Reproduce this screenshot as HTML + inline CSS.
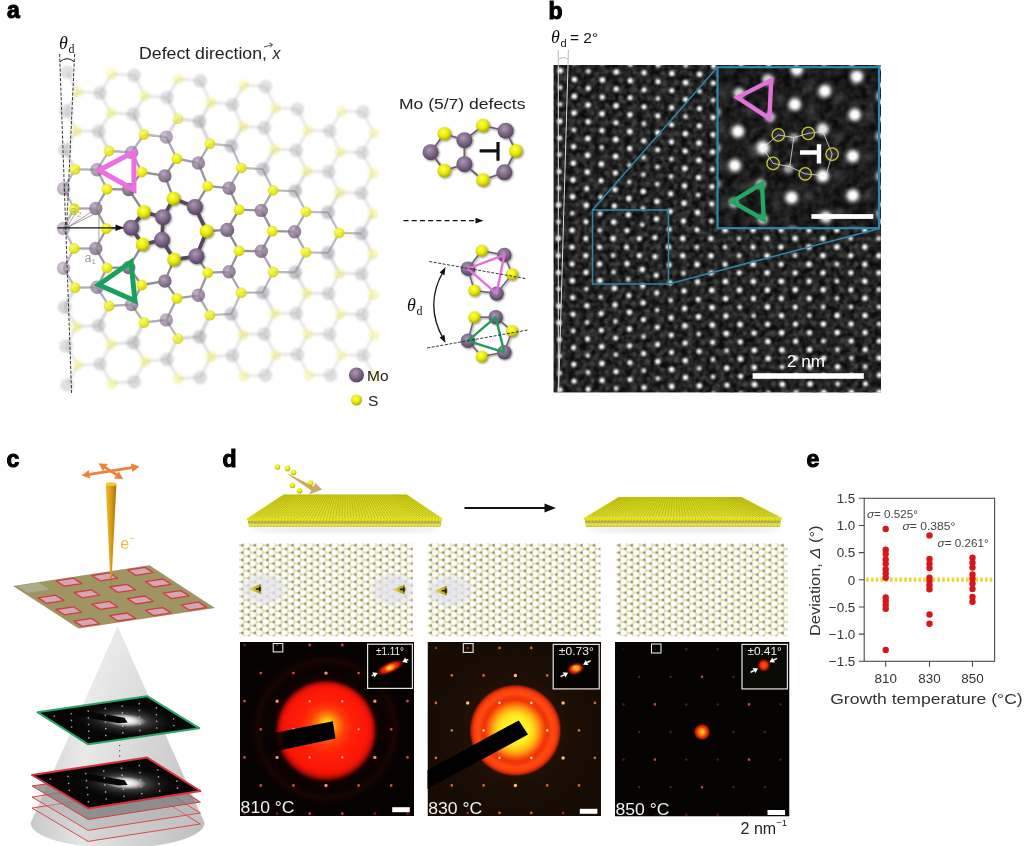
<!DOCTYPE html>
<html lang="en"><head><meta charset="utf-8"><title>Figure</title>
<style>html,body{margin:0;padding:0;background:#fff;}svg{display:block;}</style></head>
<body>
<svg width="1024" height="846" viewBox="0 0 1024 846">
<defs>
<radialGradient id="gMoF" cx="0.4" cy="0.35" r="0.7"><stop offset="0" stop-color="#a4a3a8"/><stop offset="0.55" stop-color="#8c8a90"/><stop offset="1" stop-color="#7e7c82"/></radialGradient>
<radialGradient id="gSF" cx="0.4" cy="0.35" r="0.7"><stop offset="0" stop-color="#ffff80"/><stop offset="0.55" stop-color="#eeee3c"/><stop offset="1" stop-color="#d2d21c"/></radialGradient>
<radialGradient id="gMo" cx="0.4" cy="0.35" r="0.7"><stop offset="0" stop-color="#b4a4b8"/><stop offset="0.55" stop-color="#8a7690"/><stop offset="1" stop-color="#6a5870"/></radialGradient>
<radialGradient id="gS" cx="0.4" cy="0.35" r="0.7"><stop offset="0" stop-color="#ffff66"/><stop offset="0.55" stop-color="#ecec1c"/><stop offset="1" stop-color="#c4c400"/></radialGradient>
<radialGradient id="gMoc" cx="0.42" cy="0.35" r="0.72"><stop offset="0" stop-color="#ad98b3"/><stop offset="0.5" stop-color="#7d6786"/><stop offset="1" stop-color="#4b3b52"/></radialGradient>
<radialGradient id="gSc" cx="0.42" cy="0.35" r="0.72"><stop offset="0" stop-color="#ffff50"/><stop offset="0.5" stop-color="#e9e90a"/><stop offset="1" stop-color="#9c9c00"/></radialGradient>
<filter id="blur1" x="-5%" y="-5%" width="110%" height="110%"><feGaussianBlur stdDeviation="0.9"/></filter>
<filter id="blur03" x="-5%" y="-5%" width="110%" height="110%"><feGaussianBlur stdDeviation="0.35"/></filter>
<filter id="coresh" x="-10%" y="-10%" width="120%" height="120%"><feGaussianBlur in="SourceAlpha" stdDeviation="1.2" result="b"/><feOffset in="b" dx="0.8" dy="1" result="o"/><feComponentTransfer in="o" result="s"><feFuncA type="linear" slope="0.45"/></feComponentTransfer><feMerge><feMergeNode in="s"/><feMergeNode in="SourceGraphic"/></feMerge></filter>

<filter id="blM" x="0" y="0" width="100%" height="100%" filterUnits="userSpaceOnUse" primitiveUnits="userSpaceOnUse"><feGaussianBlur stdDeviation="1.15"/></filter>
<filter id="blS" x="0" y="0" width="100%" height="100%" filterUnits="userSpaceOnUse" primitiveUnits="userSpaceOnUse"><feGaussianBlur stdDeviation="1.3"/></filter>
<filter id="stemnoise" x="0" y="0" width="100%" height="100%" color-interpolation-filters="sRGB"><feTurbulence type="fractalNoise" baseFrequency="0.16" numOctaves="2" seed="4"/><feColorMatrix type="matrix" values="0.7 0 0 0 -0.2  0.7 0 0 0 -0.2  0.7 0 0 0 -0.2  0 0 0 0 1"/></filter>
<filter id="stemnoise2" x="0" y="0" width="100%" height="100%" color-interpolation-filters="sRGB"><feTurbulence type="fractalNoise" baseFrequency="0.12" numOctaves="2" seed="9"/><feColorMatrix type="matrix" values="0.8 0 0 0 -0.22  0.8 0 0 0 -0.22  0.8 0 0 0 -0.22  0 0 0 0 1"/></filter>
<radialGradient id="gSpot"><stop offset="0" stop-color="#fff"/><stop offset="0.3" stop-color="#fff" stop-opacity="0.97"/><stop offset="0.5" stop-color="#eee" stop-opacity="0.7"/><stop offset="0.75" stop-color="#bbb" stop-opacity="0.25"/><stop offset="1" stop-color="#888" stop-opacity="0"/></radialGradient>
<radialGradient id="gHaze"><stop offset="0" stop-color="#666" stop-opacity="0.42"/><stop offset="1" stop-color="#555" stop-opacity="0"/></radialGradient>

<linearGradient id="gCone" x1="0" x2="1" y1="0" y2="0"><stop offset="0" stop-color="#c6c6c6"/><stop offset="0.3" stop-color="#e6e6e6"/><stop offset="0.55" stop-color="#d6d6d6"/><stop offset="1" stop-color="#bdbdbd"/></linearGradient>
<linearGradient id="gConeV" x1="0" x2="0" y1="0" y2="1"><stop offset="0" stop-color="#fff" stop-opacity="0.45"/><stop offset="0.35" stop-color="#fff" stop-opacity="0.2"/><stop offset="1" stop-color="#fff" stop-opacity="0"/></linearGradient>
<linearGradient id="gBeam" x1="0" x2="1" y1="0" y2="0"><stop offset="0" stop-color="#f0b830"/><stop offset="0.45" stop-color="#dda018"/><stop offset="1" stop-color="#a87200"/></linearGradient>
<radialGradient id="gGlowW"><stop offset="0" stop-color="#fff" stop-opacity="0.85"/><stop offset="0.25" stop-color="#ccc" stop-opacity="0.5"/><stop offset="0.6" stop-color="#666" stop-opacity="0.25"/><stop offset="1" stop-color="#222" stop-opacity="0"/></radialGradient>
<radialGradient id="gGlowW2"><stop offset="0" stop-color="#fff" stop-opacity="1"/><stop offset="0.5" stop-color="#fff" stop-opacity="0.7"/><stop offset="1" stop-color="#fff" stop-opacity="0"/></radialGradient>
<filter id="blur03c" x="-5%" y="-5%" width="110%" height="110%"><feGaussianBlur stdDeviation="0.4"/></filter>

<linearGradient id="gStop1" gradientUnits="userSpaceOnUse" x1="260" x2="285" y1="0" y2="0"><stop offset="0" stop-color="#020101" stop-opacity="0"/><stop offset="1" stop-color="#020101"/></linearGradient>
<linearGradient id="gSlab" x1="0" x2="0" y1="0" y2="1"><stop offset="0" stop-color="#d4d41c"/><stop offset="1" stop-color="#e4e430"/></linearGradient>
<filter id="blur2d" x="-10%" y="-100%" width="120%" height="300%"><feGaussianBlur stdDeviation="2"/></filter>
<filter id="blur05d" x="-20%" y="-20%" width="140%" height="140%"><feGaussianBlur stdDeviation="0.6"/></filter>
<filter id="blur07d" x="0" y="0" width="100%" height="100%" filterUnits="userSpaceOnUse"><feGaussianBlur stdDeviation="0.65"/></filter>
<pattern id="honey" x="236.1" y="541.6" width="12.56" height="7.3" patternUnits="userSpaceOnUse">
<rect width="12.56" height="7.3" fill="#e3e2a8"/>
<g fill="#fff"><circle cx="4.2" cy="0" r="2.85"/><circle cx="4.2" cy="7.3" r="2.85"/><circle cx="10.48" cy="3.65" r="2.85"/><circle cx="-2.08" cy="3.65" r="2.85"/></g>
<g fill="#939080"><circle cx="0" cy="0" r="1.4"/><circle cx="0" cy="7.3" r="1.4"/><circle cx="12.56" cy="0" r="1.4"/><circle cx="12.56" cy="7.3" r="1.4"/><circle cx="6.28" cy="3.65" r="1.4"/></g>
</pattern>
<radialGradient id="gLav"><stop offset="0" stop-color="#e4e4ee" stop-opacity="0.9"/><stop offset="0.6" stop-color="#e2e2ec" stop-opacity="0.75"/><stop offset="0.85" stop-color="#e6e6ee" stop-opacity="0.4"/><stop offset="1" stop-color="#e8e8f0" stop-opacity="0"/></radialGradient>
<linearGradient id="gGold" x1="0" x2="1" y1="0" y2="0"><stop offset="0" stop-color="#e6dc70"/><stop offset="0.5" stop-color="#cdbd2c"/><stop offset="1" stop-color="#9c8c18"/></linearGradient>
<radialGradient id="gGlow1" cx="0.5" cy="0.5" r="0.5" fx="0.515" fy="0.43"><stop offset="0" stop-color="#ffe41a"/><stop offset="0.09" stop-color="#ffc410"/><stop offset="0.2" stop-color="#ff7c0c"/><stop offset="0.33" stop-color="#ff3e08"/><stop offset="0.5" stop-color="#ff2007"/><stop offset="0.78" stop-color="#fa1606"/><stop offset="0.85" stop-color="#e81205"/><stop offset="0.91" stop-color="#b40c04" stop-opacity="0.9"/><stop offset="0.96" stop-color="#600502" stop-opacity="0.5"/><stop offset="1" stop-color="#300200" stop-opacity="0"/></radialGradient>
<radialGradient id="gHalo1"><stop offset="0.5" stop-color="#300603" stop-opacity="0.5"/><stop offset="0.7" stop-color="#100201" stop-opacity="0.3"/><stop offset="0.8" stop-color="#2a0804" stop-opacity="0.5"/><stop offset="0.87" stop-color="#100201" stop-opacity="0.25"/><stop offset="1" stop-color="#000" stop-opacity="0"/></radialGradient>
<radialGradient id="gGlow2"><stop offset="0" stop-color="#fff43a"/><stop offset="0.3" stop-color="#ffee22"/><stop offset="0.4" stop-color="#ffd018"/><stop offset="0.5" stop-color="#ff9a10"/><stop offset="0.59" stop-color="#fb5a0c"/><stop offset="0.66" stop-color="#ee3408"/><stop offset="0.72" stop-color="#f23808"/><stop offset="0.8" stop-color="#ff4c10"/><stop offset="0.89" stop-color="#f83c0c"/><stop offset="0.95" stop-color="#c82406" stop-opacity="0.9"/><stop offset="1" stop-color="#401000" stop-opacity="0"/></radialGradient>
<radialGradient id="gHalo2"><stop offset="0.4" stop-color="#2c1406" stop-opacity="0.6"/><stop offset="0.75" stop-color="#1c0e05" stop-opacity="0.35"/><stop offset="1" stop-color="#160c04" stop-opacity="0"/></radialGradient>
<radialGradient id="gGlow3"><stop offset="0" stop-color="#ffd828"/><stop offset="0.25" stop-color="#ffa018"/><stop offset="0.5" stop-color="#f84c0c"/><stop offset="0.78" stop-color="#c01c06" stop-opacity="0.85"/><stop offset="1" stop-color="#400400" stop-opacity="0"/></radialGradient>
<radialGradient id="gBlobR"><stop offset="0" stop-color="#ff4a10"/><stop offset="0.55" stop-color="#e42408"/><stop offset="1" stop-color="#700800" stop-opacity="0"/></radialGradient>
<radialGradient id="gBlobY"><stop offset="0" stop-color="#ffe030"/><stop offset="0.5" stop-color="#ffa818"/><stop offset="1" stop-color="#ff6010" stop-opacity="0"/></radialGradient>
<radialGradient id="gBlobO"><stop offset="0" stop-color="#ff7a20"/><stop offset="1" stop-color="#ff4a10" stop-opacity="0"/></radialGradient>
</defs>
<rect width="1024" height="846" fill="#fff"/>
<g id="pa"><g filter="url(#blur1)"><line x1="67.1" y1="72.1" x2="77.8" y2="91.9" stroke="#8a8590" stroke-width="2.3" opacity="0.22"/><line x1="66.1" y1="111.0" x2="77.8" y2="91.9" stroke="#8a8590" stroke-width="2.3" opacity="0.24"/><line x1="66.1" y1="111.0" x2="76.5" y2="130.6" stroke="#8a8590" stroke-width="2.3" opacity="0.26"/><line x1="64.7" y1="149.8" x2="76.5" y2="130.6" stroke="#8a8590" stroke-width="2.3" opacity="0.27"/><line x1="64.7" y1="149.8" x2="75.0" y2="169.4" stroke="#8a8590" stroke-width="2.3" opacity="0.42"/><line x1="64.7" y1="307.2" x2="75.0" y2="287.6" stroke="#8a8590" stroke-width="2.3" opacity="0.45"/><line x1="64.7" y1="307.2" x2="76.5" y2="326.4" stroke="#8a8590" stroke-width="2.3" opacity="0.30"/><line x1="66.1" y1="346.0" x2="76.5" y2="326.4" stroke="#8a8590" stroke-width="2.3" opacity="0.26"/><line x1="66.1" y1="346.0" x2="77.8" y2="365.1" stroke="#8a8590" stroke-width="2.3" opacity="0.24"/><line x1="67.1" y1="384.9" x2="77.8" y2="365.1" stroke="#8a8590" stroke-width="2.3" opacity="0.23"/><line x1="100.1" y1="92.9" x2="77.8" y2="91.9" stroke="#8a8590" stroke-width="2.3" opacity="0.24"/><line x1="100.1" y1="92.9" x2="111.8" y2="74.0" stroke="#8a8590" stroke-width="2.3" opacity="0.24"/><line x1="100.1" y1="92.9" x2="110.8" y2="112.8" stroke="#8a8590" stroke-width="2.3" opacity="0.26"/><line x1="98.8" y1="131.4" x2="76.5" y2="130.6" stroke="#8a8590" stroke-width="2.3" opacity="0.27"/><line x1="98.8" y1="131.4" x2="110.8" y2="112.8" stroke="#8a8590" stroke-width="2.3" opacity="0.27"/><line x1="98.8" y1="131.4" x2="109.1" y2="151.0" stroke="#8a8590" stroke-width="2.3" opacity="0.42"/><line x1="98.8" y1="325.6" x2="76.5" y2="326.4" stroke="#8a8590" stroke-width="2.3" opacity="0.31"/><line x1="98.8" y1="325.6" x2="109.1" y2="306.0" stroke="#8a8590" stroke-width="2.3" opacity="0.47"/><line x1="98.8" y1="325.6" x2="110.8" y2="344.2" stroke="#8a8590" stroke-width="2.3" opacity="0.31"/><line x1="100.1" y1="364.1" x2="77.8" y2="365.1" stroke="#8a8590" stroke-width="2.3" opacity="0.25"/><line x1="100.1" y1="364.1" x2="110.8" y2="344.2" stroke="#8a8590" stroke-width="2.3" opacity="0.26"/><line x1="100.1" y1="364.1" x2="111.8" y2="383.0" stroke="#8a8590" stroke-width="2.3" opacity="0.25"/><line x1="134.1" y1="75.3" x2="111.8" y2="74.0" stroke="#8a8590" stroke-width="2.3" opacity="0.24"/><line x1="134.1" y1="75.3" x2="144.9" y2="95.7" stroke="#8a8590" stroke-width="2.3" opacity="0.25"/><line x1="133.3" y1="114.3" x2="110.8" y2="112.8" stroke="#8a8590" stroke-width="2.3" opacity="0.28"/><line x1="133.3" y1="114.3" x2="144.9" y2="95.7" stroke="#8a8590" stroke-width="2.3" opacity="0.28"/><line x1="133.3" y1="114.3" x2="143.9" y2="134.5" stroke="#8a8590" stroke-width="2.3" opacity="0.43"/><line x1="133.3" y1="342.7" x2="110.8" y2="344.2" stroke="#8a8590" stroke-width="2.3" opacity="0.32"/><line x1="133.3" y1="342.7" x2="143.9" y2="322.5" stroke="#8a8590" stroke-width="2.3" opacity="0.49"/><line x1="133.3" y1="342.7" x2="144.9" y2="361.3" stroke="#8a8590" stroke-width="2.3" opacity="0.32"/><line x1="134.1" y1="381.7" x2="111.8" y2="383.0" stroke="#8a8590" stroke-width="2.3" opacity="0.25"/><line x1="134.1" y1="381.7" x2="144.9" y2="361.3" stroke="#8a8590" stroke-width="2.3" opacity="0.26"/><line x1="167.1" y1="97.6" x2="144.9" y2="95.7" stroke="#8a8590" stroke-width="2.3" opacity="0.26"/><line x1="167.1" y1="97.6" x2="178.4" y2="78.7" stroke="#8a8590" stroke-width="2.3" opacity="0.25"/><line x1="167.1" y1="97.6" x2="177.8" y2="118.7" stroke="#8a8590" stroke-width="2.3" opacity="0.31"/><line x1="166.3" y1="137.1" x2="177.8" y2="118.7" stroke="#8a8590" stroke-width="2.3" opacity="0.47"/><line x1="167.1" y1="359.4" x2="144.9" y2="361.3" stroke="#8a8590" stroke-width="2.3" opacity="0.27"/><line x1="167.1" y1="359.4" x2="177.8" y2="338.5" stroke="#8a8590" stroke-width="2.3" opacity="0.39"/><line x1="167.1" y1="359.4" x2="178.4" y2="378.5" stroke="#8a8590" stroke-width="2.3" opacity="0.27"/><line x1="200.3" y1="80.9" x2="178.4" y2="78.7" stroke="#8a8590" stroke-width="2.3" opacity="0.24"/><line x1="200.3" y1="80.9" x2="210.9" y2="102.4" stroke="#8a8590" stroke-width="2.3" opacity="0.25"/><line x1="199.6" y1="121.6" x2="177.8" y2="118.7" stroke="#8a8590" stroke-width="2.3" opacity="0.38"/><line x1="199.6" y1="121.6" x2="210.9" y2="102.4" stroke="#8a8590" stroke-width="2.3" opacity="0.34"/><line x1="199.6" y1="121.6" x2="209.9" y2="143.6" stroke="#8a8590" stroke-width="2.3" opacity="0.49"/><line x1="199.6" y1="336.7" x2="177.8" y2="338.5" stroke="#8a8590" stroke-width="2.3" opacity="0.47"/><line x1="199.6" y1="336.7" x2="209.9" y2="315.2" stroke="#8a8590" stroke-width="2.3" opacity="0.50"/><line x1="199.6" y1="336.7" x2="210.9" y2="356.5" stroke="#8a8590" stroke-width="2.3" opacity="0.34"/><line x1="200.3" y1="377.4" x2="178.4" y2="378.5" stroke="#8a8590" stroke-width="2.3" opacity="0.25"/><line x1="200.3" y1="377.4" x2="210.9" y2="356.5" stroke="#8a8590" stroke-width="2.3" opacity="0.26"/><line x1="232.5" y1="104.6" x2="210.9" y2="102.4" stroke="#8a8590" stroke-width="2.3" opacity="0.26"/><line x1="232.5" y1="104.6" x2="243.8" y2="85.0" stroke="#8a8590" stroke-width="2.3" opacity="0.24"/><line x1="232.5" y1="104.6" x2="242.7" y2="126.2" stroke="#8a8590" stroke-width="2.3" opacity="0.26"/><line x1="231.3" y1="146.0" x2="242.7" y2="126.2" stroke="#8a8590" stroke-width="2.3" opacity="0.36"/><line x1="231.3" y1="314.0" x2="242.7" y2="334.5" stroke="#8a8590" stroke-width="2.3" opacity="0.37"/><line x1="232.5" y1="355.5" x2="210.9" y2="356.5" stroke="#8a8590" stroke-width="2.3" opacity="0.26"/><line x1="232.5" y1="355.5" x2="242.7" y2="334.5" stroke="#8a8590" stroke-width="2.3" opacity="0.26"/><line x1="232.5" y1="355.5" x2="243.8" y2="375.7" stroke="#8a8590" stroke-width="2.3" opacity="0.24"/><line x1="265.4" y1="86.6" x2="243.8" y2="85.0" stroke="#8a8590" stroke-width="2.3" opacity="0.22"/><line x1="265.4" y1="86.6" x2="275.8" y2="107.9" stroke="#8a8590" stroke-width="2.3" opacity="0.22"/><line x1="264.3" y1="127.8" x2="242.7" y2="126.2" stroke="#8a8590" stroke-width="2.3" opacity="0.26"/><line x1="264.3" y1="127.8" x2="275.8" y2="107.9" stroke="#8a8590" stroke-width="2.3" opacity="0.24"/><line x1="264.3" y1="127.8" x2="274.5" y2="149.1" stroke="#8a8590" stroke-width="2.3" opacity="0.26"/><line x1="262.8" y1="169.2" x2="274.5" y2="149.1" stroke="#8a8590" stroke-width="2.3" opacity="0.38"/><line x1="262.8" y1="292.5" x2="274.5" y2="313.3" stroke="#8a8590" stroke-width="2.3" opacity="0.38"/><line x1="264.3" y1="334.0" x2="242.7" y2="334.5" stroke="#8a8590" stroke-width="2.3" opacity="0.26"/><line x1="264.3" y1="334.0" x2="274.5" y2="313.3" stroke="#8a8590" stroke-width="2.3" opacity="0.26"/><line x1="264.3" y1="334.0" x2="275.8" y2="354.6" stroke="#8a8590" stroke-width="2.3" opacity="0.24"/><line x1="265.4" y1="375.3" x2="243.8" y2="375.7" stroke="#8a8590" stroke-width="2.3" opacity="0.22"/><line x1="265.4" y1="375.3" x2="275.8" y2="354.6" stroke="#8a8590" stroke-width="2.3" opacity="0.23"/><line x1="297.5" y1="109.1" x2="275.8" y2="107.9" stroke="#8a8590" stroke-width="2.3" opacity="0.23"/><line x1="297.5" y1="109.1" x2="307.8" y2="130.2" stroke="#8a8590" stroke-width="2.3" opacity="0.23"/><line x1="296.3" y1="150.2" x2="274.5" y2="149.1" stroke="#8a8590" stroke-width="2.3" opacity="0.26"/><line x1="296.3" y1="150.2" x2="307.8" y2="130.2" stroke="#8a8590" stroke-width="2.3" opacity="0.24"/><line x1="296.3" y1="150.2" x2="306.7" y2="171.1" stroke="#8a8590" stroke-width="2.3" opacity="0.26"/><line x1="295.2" y1="191.1" x2="306.7" y2="171.1" stroke="#8a8590" stroke-width="2.3" opacity="0.38"/><line x1="295.2" y1="272.4" x2="306.7" y2="293.0" stroke="#8a8590" stroke-width="2.3" opacity="0.38"/><line x1="296.3" y1="313.4" x2="274.5" y2="313.3" stroke="#8a8590" stroke-width="2.3" opacity="0.26"/><line x1="296.3" y1="313.4" x2="306.7" y2="293.0" stroke="#8a8590" stroke-width="2.3" opacity="0.26"/><line x1="296.3" y1="313.4" x2="307.8" y2="334.0" stroke="#8a8590" stroke-width="2.3" opacity="0.24"/><line x1="297.5" y1="354.5" x2="275.8" y2="354.6" stroke="#8a8590" stroke-width="2.3" opacity="0.23"/><line x1="297.5" y1="354.5" x2="307.8" y2="334.0" stroke="#8a8590" stroke-width="2.3" opacity="0.23"/><line x1="297.5" y1="354.5" x2="308.8" y2="375.0" stroke="#8a8590" stroke-width="2.3" opacity="0.21"/><line x1="329.7" y1="131.1" x2="307.8" y2="130.2" stroke="#8a8590" stroke-width="2.3" opacity="0.23"/><line x1="329.7" y1="131.1" x2="341.1" y2="111.2" stroke="#8a8590" stroke-width="2.3" opacity="0.21"/><line x1="329.7" y1="131.1" x2="340.2" y2="151.9" stroke="#8a8590" stroke-width="2.3" opacity="0.23"/><line x1="328.8" y1="171.8" x2="306.7" y2="171.1" stroke="#8a8590" stroke-width="2.3" opacity="0.26"/><line x1="328.8" y1="171.8" x2="340.2" y2="151.9" stroke="#8a8590" stroke-width="2.3" opacity="0.24"/><line x1="328.8" y1="171.8" x2="339.5" y2="192.5" stroke="#8a8590" stroke-width="2.3" opacity="0.26"/><line x1="328.1" y1="212.4" x2="339.5" y2="192.5" stroke="#8a8590" stroke-width="2.3" opacity="0.37"/><line x1="328.1" y1="252.9" x2="339.5" y2="273.4" stroke="#8a8590" stroke-width="2.3" opacity="0.38"/><line x1="328.8" y1="293.5" x2="306.7" y2="293.0" stroke="#8a8590" stroke-width="2.3" opacity="0.26"/><line x1="328.8" y1="293.5" x2="339.5" y2="273.4" stroke="#8a8590" stroke-width="2.3" opacity="0.26"/><line x1="328.8" y1="293.5" x2="340.2" y2="314.0" stroke="#8a8590" stroke-width="2.3" opacity="0.24"/><line x1="329.7" y1="334.3" x2="307.8" y2="334.0" stroke="#8a8590" stroke-width="2.3" opacity="0.23"/><line x1="329.7" y1="334.3" x2="340.2" y2="314.0" stroke="#8a8590" stroke-width="2.3" opacity="0.23"/><line x1="329.7" y1="334.3" x2="341.1" y2="354.8" stroke="#8a8590" stroke-width="2.3" opacity="0.21"/><line x1="330.6" y1="375.1" x2="308.8" y2="375.0" stroke="#8a8590" stroke-width="2.3" opacity="0.20"/><line x1="330.6" y1="375.1" x2="341.1" y2="354.8" stroke="#8a8590" stroke-width="2.3" opacity="0.20"/><line x1="363.0" y1="112.0" x2="341.1" y2="111.2" stroke="#8a8590" stroke-width="2.3" opacity="0.20"/><line x1="363.0" y1="112.0" x2="373.6" y2="132.7" stroke="#8a8590" stroke-width="2.3" opacity="0.20"/><line x1="362.3" y1="152.6" x2="340.2" y2="151.9" stroke="#8a8590" stroke-width="2.3" opacity="0.23"/><line x1="362.3" y1="152.6" x2="373.6" y2="132.7" stroke="#8a8590" stroke-width="2.3" opacity="0.21"/><line x1="362.3" y1="152.6" x2="373.0" y2="173.2" stroke="#8a8590" stroke-width="2.3" opacity="0.22"/><line x1="361.6" y1="193.1" x2="339.5" y2="192.5" stroke="#8a8590" stroke-width="2.3" opacity="0.26"/><line x1="361.6" y1="193.1" x2="373.0" y2="173.2" stroke="#8a8590" stroke-width="2.3" opacity="0.24"/><line x1="361.6" y1="193.1" x2="372.6" y2="213.6" stroke="#8a8590" stroke-width="2.3" opacity="0.26"/><line x1="361.4" y1="233.5" x2="372.6" y2="213.6" stroke="#8a8590" stroke-width="2.3" opacity="0.36"/><line x1="361.4" y1="233.5" x2="372.6" y2="254.0" stroke="#8a8590" stroke-width="2.3" opacity="0.36"/><line x1="361.6" y1="273.9" x2="339.5" y2="273.4" stroke="#8a8590" stroke-width="2.3" opacity="0.26"/><line x1="361.6" y1="273.9" x2="372.6" y2="254.0" stroke="#8a8590" stroke-width="2.3" opacity="0.26"/><line x1="361.6" y1="273.9" x2="373.0" y2="294.5" stroke="#8a8590" stroke-width="2.3" opacity="0.24"/><line x1="362.3" y1="314.5" x2="340.2" y2="314.0" stroke="#8a8590" stroke-width="2.3" opacity="0.23"/><line x1="362.3" y1="314.5" x2="373.0" y2="294.5" stroke="#8a8590" stroke-width="2.3" opacity="0.23"/><line x1="362.3" y1="314.5" x2="373.6" y2="335.0" stroke="#8a8590" stroke-width="2.3" opacity="0.21"/><line x1="363.0" y1="355.1" x2="341.1" y2="354.8" stroke="#8a8590" stroke-width="2.3" opacity="0.20"/><line x1="363.0" y1="355.1" x2="373.6" y2="335.0" stroke="#8a8590" stroke-width="2.3" opacity="0.20"/><line x1="363.0" y1="355.1" x2="374.4" y2="375.6" stroke="#8a8590" stroke-width="2.3" opacity="0.20"/><circle cx="67.1" cy="72.1" r="6.7" fill="url(#gMoF)" opacity="0.27"/><circle cx="66.1" cy="111.0" r="6.7" fill="url(#gMoF)" opacity="0.30"/><circle cx="64.7" cy="149.8" r="6.7" fill="url(#gMoF)" opacity="0.32"/><circle cx="64.7" cy="307.2" r="6.7" fill="url(#gMoF)" opacity="0.36"/><circle cx="66.1" cy="346.0" r="6.7" fill="url(#gMoF)" opacity="0.30"/><circle cx="67.1" cy="384.9" r="6.7" fill="url(#gMoF)" opacity="0.28"/><circle cx="100.1" cy="92.9" r="6.7" fill="url(#gMoF)" opacity="0.30"/><circle cx="98.8" cy="131.4" r="6.7" fill="url(#gMoF)" opacity="0.33"/><circle cx="98.8" cy="325.6" r="6.7" fill="url(#gMoF)" opacity="0.37"/><circle cx="100.1" cy="364.1" r="6.7" fill="url(#gMoF)" opacity="0.30"/><circle cx="134.1" cy="75.3" r="6.7" fill="url(#gMoF)" opacity="0.29"/><circle cx="133.3" cy="114.3" r="6.7" fill="url(#gMoF)" opacity="0.33"/><circle cx="133.3" cy="342.7" r="6.7" fill="url(#gMoF)" opacity="0.40"/><circle cx="134.1" cy="381.7" r="6.7" fill="url(#gMoF)" opacity="0.31"/><circle cx="167.1" cy="97.6" r="6.7" fill="url(#gMoF)" opacity="0.31"/><circle cx="167.1" cy="359.4" r="6.7" fill="url(#gMoF)" opacity="0.32"/><circle cx="200.3" cy="80.9" r="6.7" fill="url(#gMoF)" opacity="0.30"/><circle cx="199.6" cy="121.6" r="6.7" fill="url(#gMoF)" opacity="0.43"/><circle cx="199.6" cy="336.7" r="6.7" fill="url(#gMoF)" opacity="0.44"/><circle cx="200.3" cy="377.4" r="6.7" fill="url(#gMoF)" opacity="0.30"/><circle cx="232.5" cy="104.6" r="6.7" fill="url(#gMoF)" opacity="0.31"/><circle cx="231.3" cy="146.0" r="6.7" fill="url(#gMoF)" opacity="0.47"/><circle cx="231.3" cy="314.0" r="6.7" fill="url(#gMoF)" opacity="0.47"/><circle cx="232.5" cy="355.5" r="6.7" fill="url(#gMoF)" opacity="0.31"/><circle cx="265.4" cy="86.6" r="6.7" fill="url(#gMoF)" opacity="0.28"/><circle cx="264.3" cy="127.8" r="6.7" fill="url(#gMoF)" opacity="0.31"/><circle cx="262.8" cy="169.2" r="6.7" fill="url(#gMoF)" opacity="0.49"/><circle cx="262.8" cy="292.5" r="6.7" fill="url(#gMoF)" opacity="0.49"/><circle cx="264.3" cy="334.0" r="6.7" fill="url(#gMoF)" opacity="0.31"/><circle cx="265.4" cy="375.3" r="6.7" fill="url(#gMoF)" opacity="0.28"/><circle cx="297.5" cy="109.1" r="6.7" fill="url(#gMoF)" opacity="0.28"/><circle cx="296.3" cy="150.2" r="6.7" fill="url(#gMoF)" opacity="0.31"/><circle cx="295.2" cy="191.1" r="6.7" fill="url(#gMoF)" opacity="0.49"/><circle cx="295.2" cy="272.4" r="6.7" fill="url(#gMoF)" opacity="0.50"/><circle cx="296.3" cy="313.4" r="6.7" fill="url(#gMoF)" opacity="0.31"/><circle cx="297.5" cy="354.5" r="6.7" fill="url(#gMoF)" opacity="0.28"/><circle cx="329.7" cy="131.1" r="6.7" fill="url(#gMoF)" opacity="0.28"/><circle cx="328.8" cy="171.8" r="6.7" fill="url(#gMoF)" opacity="0.31"/><circle cx="328.1" cy="212.4" r="6.7" fill="url(#gMoF)" opacity="0.48"/><circle cx="328.1" cy="252.9" r="6.7" fill="url(#gMoF)" opacity="0.49"/><circle cx="328.8" cy="293.5" r="6.7" fill="url(#gMoF)" opacity="0.31"/><circle cx="329.7" cy="334.3" r="6.7" fill="url(#gMoF)" opacity="0.28"/><circle cx="330.6" cy="375.1" r="6.7" fill="url(#gMoF)" opacity="0.27"/><circle cx="363.0" cy="112.0" r="6.7" fill="url(#gMoF)" opacity="0.27"/><circle cx="362.3" cy="152.6" r="6.7" fill="url(#gMoF)" opacity="0.28"/><circle cx="361.6" cy="193.1" r="6.7" fill="url(#gMoF)" opacity="0.31"/><circle cx="361.4" cy="233.5" r="6.7" fill="url(#gMoF)" opacity="0.46"/><circle cx="361.6" cy="273.9" r="6.7" fill="url(#gMoF)" opacity="0.31"/><circle cx="362.3" cy="314.5" r="6.7" fill="url(#gMoF)" opacity="0.28"/><circle cx="363.0" cy="355.1" r="6.7" fill="url(#gMoF)" opacity="0.27"/><circle cx="77.8" cy="91.9" r="5.4" fill="url(#gSF)" opacity="0.36"/><circle cx="76.5" cy="130.6" r="5.4" fill="url(#gSF)" opacity="0.41"/><circle cx="76.5" cy="326.4" r="5.4" fill="url(#gSF)" opacity="0.42"/><circle cx="77.8" cy="365.1" r="5.4" fill="url(#gSF)" opacity="0.37"/><circle cx="111.8" cy="74.0" r="5.4" fill="url(#gSF)" opacity="0.37"/><circle cx="110.8" cy="112.8" r="5.4" fill="url(#gSF)" opacity="0.41"/><circle cx="110.8" cy="344.2" r="5.4" fill="url(#gSF)" opacity="0.42"/><circle cx="111.8" cy="383.0" r="5.4" fill="url(#gSF)" opacity="0.38"/><circle cx="144.9" cy="95.7" r="5.4" fill="url(#gSF)" opacity="0.40"/><circle cx="144.9" cy="361.3" r="5.4" fill="url(#gSF)" opacity="0.42"/><circle cx="178.4" cy="78.7" r="5.4" fill="url(#gSF)" opacity="0.38"/><circle cx="178.4" cy="378.5" r="5.4" fill="url(#gSF)" opacity="0.40"/><circle cx="210.9" cy="102.4" r="5.4" fill="url(#gSF)" opacity="0.41"/><circle cx="210.9" cy="356.5" r="5.4" fill="url(#gSF)" opacity="0.41"/><circle cx="243.8" cy="85.0" r="5.4" fill="url(#gSF)" opacity="0.36"/><circle cx="242.7" cy="126.2" r="5.4" fill="url(#gSF)" opacity="0.41"/><circle cx="242.7" cy="334.5" r="5.4" fill="url(#gSF)" opacity="0.41"/><circle cx="243.8" cy="375.7" r="5.4" fill="url(#gSF)" opacity="0.36"/><circle cx="275.8" cy="107.9" r="5.4" fill="url(#gSF)" opacity="0.36"/><circle cx="274.5" cy="149.1" r="5.4" fill="url(#gSF)" opacity="0.41"/><circle cx="274.5" cy="313.3" r="5.4" fill="url(#gSF)" opacity="0.41"/><circle cx="275.8" cy="354.6" r="5.4" fill="url(#gSF)" opacity="0.36"/><circle cx="307.8" cy="130.2" r="5.4" fill="url(#gSF)" opacity="0.36"/><circle cx="306.7" cy="171.1" r="5.4" fill="url(#gSF)" opacity="0.41"/><circle cx="306.7" cy="293.0" r="5.4" fill="url(#gSF)" opacity="0.42"/><circle cx="307.8" cy="334.0" r="5.4" fill="url(#gSF)" opacity="0.36"/><circle cx="308.8" cy="375.0" r="5.4" fill="url(#gSF)" opacity="0.32"/><circle cx="341.1" cy="111.2" r="5.4" fill="url(#gSF)" opacity="0.32"/><circle cx="340.2" cy="151.9" r="5.4" fill="url(#gSF)" opacity="0.36"/><circle cx="339.5" cy="192.5" r="5.4" fill="url(#gSF)" opacity="0.41"/><circle cx="339.5" cy="273.4" r="5.4" fill="url(#gSF)" opacity="0.41"/><circle cx="340.2" cy="314.0" r="5.4" fill="url(#gSF)" opacity="0.36"/><circle cx="341.1" cy="354.8" r="5.4" fill="url(#gSF)" opacity="0.32"/><circle cx="373.6" cy="132.7" r="5.4" fill="url(#gSF)" opacity="0.32"/><circle cx="373.0" cy="173.2" r="5.4" fill="url(#gSF)" opacity="0.36"/><circle cx="372.6" cy="213.6" r="5.4" fill="url(#gSF)" opacity="0.41"/><circle cx="372.6" cy="254.0" r="5.4" fill="url(#gSF)" opacity="0.41"/><circle cx="373.0" cy="294.5" r="5.4" fill="url(#gSF)" opacity="0.36"/><circle cx="373.6" cy="335.0" r="5.4" fill="url(#gSF)" opacity="0.32"/><circle cx="374.4" cy="375.6" r="5.4" fill="url(#gSF)" opacity="0.32"/></g><g filter="url(#blur03)"><line x1="63.6" y1="188.8" x2="75.0" y2="169.4" stroke="#8a8590" stroke-width="2.3" opacity="0.57"/><line x1="63.6" y1="188.8" x2="74.2" y2="208.5" stroke="#8a8590" stroke-width="2.3" opacity="0.59"/><line x1="63.6" y1="268.2" x2="74.2" y2="248.5" stroke="#8a8590" stroke-width="2.3" opacity="0.59"/><line x1="63.6" y1="268.2" x2="75.0" y2="287.6" stroke="#8a8590" stroke-width="2.3" opacity="0.58"/><line x1="97.0" y1="169.7" x2="75.0" y2="169.4" stroke="#8a8590" stroke-width="2.3" opacity="0.63"/><line x1="97.0" y1="169.7" x2="109.1" y2="151.0" stroke="#8a8590" stroke-width="2.3" opacity="0.63"/><line x1="97.0" y1="169.7" x2="107.0" y2="189.1" stroke="#8a8590" stroke-width="2.3" opacity="0.77"/><line x1="95.8" y1="208.5" x2="74.2" y2="208.5" stroke="#8a8590" stroke-width="2.3" opacity="0.72"/><line x1="95.8" y1="208.5" x2="107.0" y2="189.1" stroke="#8a8590" stroke-width="2.3" opacity="0.83"/><line x1="95.8" y1="208.5" x2="106.5" y2="228.5" stroke="#8a8590" stroke-width="2.3" opacity="0.85"/><line x1="95.8" y1="248.5" x2="74.2" y2="248.5" stroke="#8a8590" stroke-width="2.3" opacity="0.72"/><line x1="95.8" y1="248.5" x2="107.0" y2="267.9" stroke="#8a8590" stroke-width="2.3" opacity="0.84"/><line x1="95.8" y1="248.5" x2="106.5" y2="228.5" stroke="#8a8590" stroke-width="2.3" opacity="0.85"/><line x1="74.2" y1="208.5" x2="63.4" y2="228.5" stroke="#8a8590" stroke-width="2.3" opacity="0.59"/><line x1="74.2" y1="248.5" x2="63.4" y2="228.5" stroke="#8a8590" stroke-width="2.3" opacity="0.59"/><line x1="97.0" y1="287.3" x2="75.0" y2="287.6" stroke="#8a8590" stroke-width="2.3" opacity="0.66"/><line x1="97.0" y1="287.3" x2="107.0" y2="267.9" stroke="#8a8590" stroke-width="2.3" opacity="0.79"/><line x1="97.0" y1="287.3" x2="109.1" y2="306.0" stroke="#8a8590" stroke-width="2.3" opacity="0.66"/><line x1="131.7" y1="152.4" x2="109.1" y2="151.0" stroke="#8a8590" stroke-width="2.3" opacity="0.64"/><line x1="131.7" y1="152.4" x2="143.9" y2="134.5" stroke="#8a8590" stroke-width="2.3" opacity="0.64"/><line x1="131.7" y1="152.4" x2="141.8" y2="172.0" stroke="#8a8590" stroke-width="2.3" opacity="0.79"/><line x1="128.7" y1="189.5" x2="107.0" y2="189.1" stroke="#8a8590" stroke-width="2.3" opacity="0.90"/><line x1="128.7" y1="189.5" x2="141.8" y2="172.0" stroke="#8a8590" stroke-width="2.3" opacity="0.92"/><line x1="128.7" y1="189.5" x2="143.8" y2="212.1" stroke="#8a8590" stroke-width="2.3" opacity="0.98"/><line x1="128.7" y1="267.5" x2="107.0" y2="267.9" stroke="#8a8590" stroke-width="2.3" opacity="0.92"/><line x1="128.7" y1="267.5" x2="142.6" y2="244.5" stroke="#8a8590" stroke-width="2.3" opacity="0.98"/><line x1="128.7" y1="267.5" x2="141.8" y2="285.0" stroke="#8a8590" stroke-width="2.3" opacity="0.93"/><line x1="131.7" y1="304.6" x2="109.1" y2="306.0" stroke="#8a8590" stroke-width="2.3" opacity="0.67"/><line x1="131.7" y1="304.6" x2="141.8" y2="285.0" stroke="#8a8590" stroke-width="2.3" opacity="0.81"/><line x1="131.7" y1="304.6" x2="143.9" y2="322.5" stroke="#8a8590" stroke-width="2.3" opacity="0.68"/><line x1="166.3" y1="137.1" x2="143.9" y2="134.5" stroke="#8a8590" stroke-width="2.3" opacity="0.60"/><line x1="166.3" y1="137.1" x2="176.9" y2="158.7" stroke="#8a8590" stroke-width="2.3" opacity="0.71"/><line x1="164.9" y1="175.9" x2="141.8" y2="172.0" stroke="#8a8590" stroke-width="2.3" opacity="0.91"/><line x1="164.9" y1="175.9" x2="176.9" y2="158.7" stroke="#8a8590" stroke-width="2.3" opacity="0.88"/><line x1="164.9" y1="175.9" x2="173.5" y2="198.6" stroke="#8a8590" stroke-width="2.3" opacity="0.97"/><line x1="163.0" y1="217.2" x2="162.0" y2="239.8" stroke="#5f5566" stroke-width="3.2" opacity="1.00"/><line x1="163.0" y1="217.2" x2="143.8" y2="212.1" stroke="#5f5566" stroke-width="3.2" opacity="1.00"/><line x1="163.0" y1="217.2" x2="173.5" y2="198.6" stroke="#5f5566" stroke-width="3.2" opacity="1.00"/><line x1="162.0" y1="239.8" x2="142.6" y2="244.5" stroke="#5f5566" stroke-width="3.2" opacity="1.00"/><line x1="162.0" y1="239.8" x2="174.1" y2="259.6" stroke="#5f5566" stroke-width="3.2" opacity="1.00"/><line x1="143.8" y1="212.1" x2="131.1" y2="227.7" stroke="#5f5566" stroke-width="3.2" opacity="1.00"/><line x1="142.6" y1="244.5" x2="131.1" y2="227.7" stroke="#5f5566" stroke-width="3.2" opacity="1.00"/><line x1="164.9" y1="281.1" x2="141.8" y2="285.0" stroke="#8a8590" stroke-width="2.3" opacity="0.94"/><line x1="164.9" y1="281.1" x2="174.1" y2="259.6" stroke="#8a8590" stroke-width="2.3" opacity="0.99"/><line x1="164.9" y1="281.1" x2="176.9" y2="298.4" stroke="#8a8590" stroke-width="2.3" opacity="0.92"/><line x1="166.3" y1="319.9" x2="143.9" y2="322.5" stroke="#8a8590" stroke-width="2.3" opacity="0.66"/><line x1="166.3" y1="319.9" x2="176.9" y2="298.4" stroke="#8a8590" stroke-width="2.3" opacity="0.77"/><line x1="166.3" y1="319.9" x2="177.8" y2="338.5" stroke="#8a8590" stroke-width="2.3" opacity="0.60"/><line x1="198.4" y1="163.0" x2="176.9" y2="158.7" stroke="#8a8590" stroke-width="2.3" opacity="0.80"/><line x1="198.4" y1="163.0" x2="209.9" y2="143.6" stroke="#8a8590" stroke-width="2.3" opacity="0.69"/><line x1="198.4" y1="163.0" x2="207.7" y2="186.1" stroke="#8a8590" stroke-width="2.3" opacity="0.85"/><line x1="194.9" y1="206.9" x2="173.5" y2="198.6" stroke="#5f5566" stroke-width="3.2" opacity="1.00"/><line x1="194.9" y1="206.9" x2="207.7" y2="186.1" stroke="#8a8590" stroke-width="2.3" opacity="0.96"/><line x1="194.9" y1="206.9" x2="206.6" y2="231.2" stroke="#5f5566" stroke-width="3.2" opacity="1.00"/><line x1="196.4" y1="256.2" x2="174.1" y2="259.6" stroke="#5f5566" stroke-width="3.2" opacity="1.00"/><line x1="196.4" y1="256.2" x2="206.6" y2="231.2" stroke="#5f5566" stroke-width="3.2" opacity="1.00"/><line x1="196.4" y1="256.2" x2="207.7" y2="272.7" stroke="#8a8590" stroke-width="2.3" opacity="0.96"/><line x1="198.4" y1="295.3" x2="176.9" y2="298.4" stroke="#8a8590" stroke-width="2.3" opacity="0.82"/><line x1="198.4" y1="295.3" x2="207.7" y2="272.7" stroke="#8a8590" stroke-width="2.3" opacity="0.85"/><line x1="198.4" y1="295.3" x2="209.9" y2="315.2" stroke="#8a8590" stroke-width="2.3" opacity="0.70"/><line x1="231.3" y1="146.0" x2="209.9" y2="143.6" stroke="#8a8590" stroke-width="2.3" opacity="0.52"/><line x1="231.3" y1="146.0" x2="241.1" y2="167.9" stroke="#8a8590" stroke-width="2.3" opacity="0.53"/><line x1="229.1" y1="188.2" x2="207.7" y2="186.1" stroke="#8a8590" stroke-width="2.3" opacity="0.87"/><line x1="229.1" y1="188.2" x2="241.1" y2="167.9" stroke="#8a8590" stroke-width="2.3" opacity="0.72"/><line x1="229.1" y1="188.2" x2="239.0" y2="209.6" stroke="#8a8590" stroke-width="2.3" opacity="0.88"/><line x1="227.2" y1="229.9" x2="206.6" y2="231.2" stroke="#8a8590" stroke-width="2.3" opacity="1.00"/><line x1="227.2" y1="229.9" x2="239.0" y2="209.6" stroke="#8a8590" stroke-width="2.3" opacity="0.97"/><line x1="227.2" y1="229.9" x2="239.0" y2="250.8" stroke="#8a8590" stroke-width="2.3" opacity="0.97"/><line x1="229.1" y1="271.8" x2="207.7" y2="272.7" stroke="#8a8590" stroke-width="2.3" opacity="0.87"/><line x1="229.1" y1="271.8" x2="239.0" y2="250.8" stroke="#8a8590" stroke-width="2.3" opacity="0.88"/><line x1="229.1" y1="271.8" x2="241.1" y2="292.7" stroke="#8a8590" stroke-width="2.3" opacity="0.72"/><line x1="231.3" y1="314.0" x2="209.9" y2="315.2" stroke="#8a8590" stroke-width="2.3" opacity="0.53"/><line x1="231.3" y1="314.0" x2="241.1" y2="292.7" stroke="#8a8590" stroke-width="2.3" opacity="0.54"/><line x1="262.8" y1="169.2" x2="241.1" y2="167.9" stroke="#8a8590" stroke-width="2.3" opacity="0.55"/><line x1="262.8" y1="169.2" x2="273.0" y2="190.3" stroke="#8a8590" stroke-width="2.3" opacity="0.55"/><line x1="261.3" y1="210.4" x2="239.0" y2="209.6" stroke="#8a8590" stroke-width="2.3" opacity="0.88"/><line x1="261.3" y1="210.4" x2="273.0" y2="190.3" stroke="#8a8590" stroke-width="2.3" opacity="0.72"/><line x1="261.3" y1="210.4" x2="272.3" y2="231.1" stroke="#8a8590" stroke-width="2.3" opacity="0.87"/><line x1="261.3" y1="251.3" x2="239.0" y2="250.8" stroke="#8a8590" stroke-width="2.3" opacity="0.88"/><line x1="261.3" y1="251.3" x2="272.3" y2="231.1" stroke="#8a8590" stroke-width="2.3" opacity="0.88"/><line x1="261.3" y1="251.3" x2="273.0" y2="272.0" stroke="#8a8590" stroke-width="2.3" opacity="0.73"/><line x1="262.8" y1="292.5" x2="241.1" y2="292.7" stroke="#8a8590" stroke-width="2.3" opacity="0.56"/><line x1="262.8" y1="292.5" x2="273.0" y2="272.0" stroke="#8a8590" stroke-width="2.3" opacity="0.56"/><line x1="295.2" y1="191.1" x2="273.0" y2="190.3" stroke="#8a8590" stroke-width="2.3" opacity="0.55"/><line x1="295.2" y1="191.1" x2="305.9" y2="211.8" stroke="#8a8590" stroke-width="2.3" opacity="0.55"/><line x1="294.6" y1="231.7" x2="272.3" y2="231.1" stroke="#8a8590" stroke-width="2.3" opacity="0.87"/><line x1="294.6" y1="231.7" x2="305.9" y2="211.8" stroke="#8a8590" stroke-width="2.3" opacity="0.72"/><line x1="294.6" y1="231.7" x2="305.9" y2="252.3" stroke="#8a8590" stroke-width="2.3" opacity="0.72"/><line x1="295.2" y1="272.4" x2="273.0" y2="272.0" stroke="#8a8590" stroke-width="2.3" opacity="0.56"/><line x1="295.2" y1="272.4" x2="305.9" y2="252.3" stroke="#8a8590" stroke-width="2.3" opacity="0.56"/><line x1="328.1" y1="212.4" x2="305.9" y2="211.8" stroke="#8a8590" stroke-width="2.3" opacity="0.54"/><line x1="328.1" y1="212.4" x2="339.2" y2="232.9" stroke="#8a8590" stroke-width="2.3" opacity="0.53"/><line x1="328.1" y1="252.9" x2="305.9" y2="252.3" stroke="#8a8590" stroke-width="2.3" opacity="0.55"/><line x1="328.1" y1="252.9" x2="339.2" y2="232.9" stroke="#8a8590" stroke-width="2.3" opacity="0.54"/><line x1="361.4" y1="233.5" x2="339.2" y2="232.9" stroke="#8a8590" stroke-width="2.3" opacity="0.52"/><line x1="131.1" y1="227.7" x2="106.5" y2="228.5" stroke="#8a8590" stroke-width="2.3" opacity="0.95"/><circle cx="63.6" cy="188.8" r="6.7" fill="url(#gMo)" opacity="0.55"/><circle cx="63.6" cy="268.2" r="6.7" fill="url(#gMo)" opacity="0.55"/><circle cx="97.0" cy="169.7" r="6.7" fill="url(#gMo)" opacity="0.68"/><circle cx="95.8" cy="208.5" r="6.7" fill="url(#gMo)" opacity="0.81"/><circle cx="95.8" cy="248.5" r="6.7" fill="url(#gMo)" opacity="0.81"/><circle cx="97.0" cy="287.3" r="6.7" fill="url(#gMo)" opacity="0.70"/><circle cx="131.7" cy="152.4" r="6.7" fill="url(#gMo)" opacity="0.70"/><circle cx="128.7" cy="189.5" r="6.7" fill="url(#gMo)" opacity="0.95"/><circle cx="128.7" cy="267.5" r="6.7" fill="url(#gMo)" opacity="0.97"/><circle cx="131.7" cy="304.6" r="6.7" fill="url(#gMo)" opacity="0.72"/><circle cx="166.3" cy="137.1" r="6.7" fill="url(#gMo)" opacity="0.61"/><circle cx="164.9" cy="175.9" r="6.7" fill="url(#gMo)" opacity="0.95"/><circle cx="164.9" cy="281.1" r="6.7" fill="url(#gMo)" opacity="0.99"/><circle cx="166.3" cy="319.9" r="6.7" fill="url(#gMo)" opacity="0.68"/><circle cx="198.4" cy="163.0" r="6.7" fill="url(#gMo)" opacity="0.79"/><circle cx="198.4" cy="295.3" r="6.7" fill="url(#gMo)" opacity="0.79"/><circle cx="229.1" cy="188.2" r="6.7" fill="url(#gMo)" opacity="0.82"/><circle cx="227.2" cy="229.9" r="7.1000000000000005" fill="url(#gMo)" opacity="1.00"/><circle cx="229.1" cy="271.8" r="6.7" fill="url(#gMo)" opacity="0.83"/><circle cx="261.3" cy="210.4" r="6.7" fill="url(#gMo)" opacity="0.83"/><circle cx="261.3" cy="251.3" r="6.7" fill="url(#gMo)" opacity="0.83"/><circle cx="294.6" cy="231.7" r="6.7" fill="url(#gMo)" opacity="0.82"/><circle cx="63.4" cy="228.5" r="6.7" fill="url(#gMo)" opacity="0.55"/><circle cx="75.0" cy="169.4" r="5.4" fill="url(#gS)" opacity="0.84"/><circle cx="74.2" cy="208.5" r="5.4" fill="url(#gS)" opacity="0.90"/><circle cx="74.2" cy="248.5" r="5.4" fill="url(#gS)" opacity="0.90"/><circle cx="75.0" cy="287.6" r="5.4" fill="url(#gS)" opacity="0.87"/><circle cx="109.1" cy="151.0" r="5.4" fill="url(#gS)" opacity="0.85"/><circle cx="107.0" cy="189.1" r="5.4" fill="url(#gS)" opacity="1.00"/><circle cx="107.0" cy="267.9" r="5.4" fill="url(#gS)" opacity="1.00"/><circle cx="109.1" cy="306.0" r="5.4" fill="url(#gS)" opacity="0.88"/><circle cx="143.9" cy="134.5" r="5.4" fill="url(#gS)" opacity="0.85"/><circle cx="141.8" cy="172.0" r="5.4" fill="url(#gS)" opacity="1.00"/><circle cx="141.8" cy="285.0" r="5.4" fill="url(#gS)" opacity="1.00"/><circle cx="143.9" cy="322.5" r="5.4" fill="url(#gS)" opacity="0.91"/><circle cx="177.8" cy="118.7" r="5.4" fill="url(#gS)" opacity="0.55"/><circle cx="176.9" cy="158.7" r="5.4" fill="url(#gS)" opacity="1.00"/><circle cx="176.9" cy="298.4" r="5.4" fill="url(#gS)" opacity="1.00"/><circle cx="177.8" cy="338.5" r="5.4" fill="url(#gS)" opacity="0.77"/><circle cx="209.9" cy="143.6" r="5.4" fill="url(#gS)" opacity="0.86"/><circle cx="207.7" cy="186.1" r="5.4" fill="url(#gS)" opacity="1.00"/><circle cx="207.7" cy="272.7" r="5.4" fill="url(#gS)" opacity="1.00"/><circle cx="209.9" cy="315.2" r="5.4" fill="url(#gS)" opacity="0.86"/><circle cx="241.1" cy="167.9" r="5.4" fill="url(#gS)" opacity="0.88"/><circle cx="239.0" cy="209.6" r="5.4" fill="url(#gS)" opacity="1.00"/><circle cx="239.0" cy="250.8" r="5.4" fill="url(#gS)" opacity="1.00"/><circle cx="241.1" cy="292.7" r="5.4" fill="url(#gS)" opacity="0.88"/><circle cx="273.0" cy="190.3" r="5.4" fill="url(#gS)" opacity="0.89"/><circle cx="272.3" cy="231.1" r="5.4" fill="url(#gS)" opacity="1.00"/><circle cx="273.0" cy="272.0" r="5.4" fill="url(#gS)" opacity="0.89"/><circle cx="305.9" cy="211.8" r="5.4" fill="url(#gS)" opacity="0.88"/><circle cx="305.9" cy="252.3" r="5.4" fill="url(#gS)" opacity="0.89"/><circle cx="339.2" cy="232.9" r="5.4" fill="url(#gS)" opacity="0.87"/><circle cx="106.5" cy="228.5" r="5.4" fill="url(#gS)" opacity="1.00"/></g><g filter="url(#coresh)"><line x1="163.0" y1="217.2" x2="162.0" y2="239.8" stroke="#55495c" stroke-width="3.4"/><line x1="163.0" y1="217.2" x2="143.8" y2="212.1" stroke="#55495c" stroke-width="3.4"/><line x1="163.0" y1="217.2" x2="173.5" y2="198.6" stroke="#55495c" stroke-width="3.4"/><line x1="162.0" y1="239.8" x2="142.6" y2="244.5" stroke="#55495c" stroke-width="3.4"/><line x1="162.0" y1="239.8" x2="174.1" y2="259.6" stroke="#55495c" stroke-width="3.4"/><line x1="143.8" y1="212.1" x2="131.1" y2="227.7" stroke="#55495c" stroke-width="3.4"/><line x1="142.6" y1="244.5" x2="131.1" y2="227.7" stroke="#55495c" stroke-width="3.4"/><line x1="194.9" y1="206.9" x2="173.5" y2="198.6" stroke="#55495c" stroke-width="3.4"/><line x1="194.9" y1="206.9" x2="206.6" y2="231.2" stroke="#55495c" stroke-width="3.4"/><line x1="196.4" y1="256.2" x2="174.1" y2="259.6" stroke="#55495c" stroke-width="3.4"/><line x1="196.4" y1="256.2" x2="206.6" y2="231.2" stroke="#55495c" stroke-width="3.4"/><circle cx="163.0" cy="217.2" r="8.0" fill="url(#gMoc)"/><circle cx="162.0" cy="239.8" r="8.0" fill="url(#gMoc)"/><circle cx="194.9" cy="206.9" r="8.0" fill="url(#gMoc)"/><circle cx="196.4" cy="256.2" r="8.0" fill="url(#gMoc)"/><circle cx="131.1" cy="227.7" r="8.0" fill="url(#gMoc)"/><circle cx="143.8" cy="212.1" r="6.8" fill="url(#gSc)"/><circle cx="142.6" cy="244.5" r="6.8" fill="url(#gSc)"/><circle cx="173.5" cy="198.6" r="6.8" fill="url(#gSc)"/><circle cx="174.1" cy="259.6" r="6.8" fill="url(#gSc)"/><circle cx="206.6" cy="231.2" r="6.8" fill="url(#gSc)"/></g><g stroke="#8c8c8c" stroke-width="0.8" fill="none"><path d="M66.3 228 L98.5 207.5 M66.3 228 L98.5 212 M98.9 209 L98.9 247 M66.3 228 L75 214"/></g><text x="70" y="214.5" font-family="Liberation Sans, sans-serif" font-size="12.5" fill="#b4bf62">a<tspan font-size="8" dy="2">2</tspan></text><path d="M71 204.2 L77 205.6 M75 203.6 L77 205.6 L74.6 206.8" stroke="#a9b07a" stroke-width="0.6" fill="none"/><text x="84.5" y="262" font-family="Liberation Sans, sans-serif" font-size="12.5" fill="#9a9a9a">a<tspan font-size="8" dy="2">1</tspan></text><path d="M99.2 170.3 L133.9 151.8 L133.9 189.8 Z" fill="none" stroke="#ee6fe2" stroke-width="5" stroke-linejoin="miter"/><path d="M98.6 284.8 L131 262.2 L135 300.8 Z" fill="none" stroke="#19a15c" stroke-width="5" stroke-linejoin="miter"/><g stroke="#222" stroke-width="0.9" stroke-dasharray="3.2 1.6" fill="none"><path d="M59.6 54 L71.6 393"/><path d="M74.6 54 L66.6 228"/></g><path d="M59.9 61.8 Q67.2 55.5 74.3 61.8" stroke="#111" stroke-width="1" fill="none"/><path d="M57.5 227.8 L117 227.8" stroke="#111" stroke-width="1.3"/><path d="M124 227.8 L115.5 224.6 L115.5 231 Z" fill="#111"/><text x="7" y="18.4" font-family="Liberation Sans, sans-serif" font-size="23" font-weight="bold" fill="#000" stroke="#000" stroke-width="1.05">a</text><text x="59" y="49" font-family="Liberation Serif, serif" font-style="italic" font-size="18" fill="#111">θ</text><text x="68.5" y="53" font-family="Liberation Serif, serif" font-size="12" fill="#111">d</text><text x="139" y="59" font-family="Liberation Sans, sans-serif" font-size="15.8" fill="#222" textLength="128" lengthAdjust="spacingAndGlyphs">Defect direction,</text><text x="272.5" y="59" font-family="Liberation Sans, sans-serif" font-size="15.8" font-style="italic" fill="#222">x</text><path d="M264 47 L272.4 44.6 M269.4 43 L272.4 44.6 L270.4 47.4" stroke="#222" stroke-width="0.8" fill="none"/><circle cx="356.5" cy="375" r="7.6" fill="url(#gMoc)"/><circle cx="356.5" cy="400" r="5.6" fill="url(#gSc)"/><text x="367" y="381" font-family="Liberation Sans, sans-serif" font-size="15.5" fill="#222">Mo</text><text x="368" y="405.5" font-family="Liberation Sans, sans-serif" font-size="15.5" fill="#222">S</text><text x="399" y="108.5" font-family="Liberation Sans, sans-serif" font-size="15.5" fill="#222" textLength="126.5" lengthAdjust="spacingAndGlyphs">Mo (5/7) defects</text><g filter="url(#coresh)"><path d="M430.6 152.2 L444.3 133.7 L464.4 140.2 L482.9 125.6 L505.6 130.7 L515.9 150.9 L504.3 172.3 L482.9 180 L464.4 164.2 L444.3 170.6 Z M464.4 140.2 L464.4 164.2" stroke="#6a6170" stroke-width="1.8" fill="none"/><circle cx="430.6" cy="152.2" r="8" fill="url(#gMoc)"/><circle cx="464.4" cy="140.2" r="8" fill="url(#gMoc)"/><circle cx="464.4" cy="164.2" r="8" fill="url(#gMoc)"/><circle cx="505.6" cy="130.7" r="8" fill="url(#gMoc)"/><circle cx="504.3" cy="172.3" r="8" fill="url(#gMoc)"/><circle cx="444.3" cy="133.7" r="6.8" fill="url(#gSc)"/><circle cx="444.3" cy="170.6" r="6.8" fill="url(#gSc)"/><circle cx="482.9" cy="125.6" r="6.8" fill="url(#gSc)"/><circle cx="515.9" cy="150.9" r="6.8" fill="url(#gSc)"/><circle cx="482.9" cy="180" r="6.8" fill="url(#gSc)"/></g><path d="M479.6 150.9 L499 150.9 M498 142 L498 160.8" stroke="#111" stroke-width="3.2" fill="none"/><path d="M403.5 220.7 L476 220.7" stroke="#111" stroke-width="1.3" stroke-dasharray="5 3.2"/><path d="M483.5 220.7 L475.5 217.8 L475.5 223.6 Z" fill="#111"/><g filter="url(#coresh)"><line x1="467.9" y1="268.7" x2="481.6" y2="250.7" stroke="#6a6170" stroke-width="1.5"/><line x1="467.9" y1="268.7" x2="474.3" y2="290.6" stroke="#6a6170" stroke-width="1.5"/><line x1="504.3" y1="255" x2="481.6" y2="250.7" stroke="#6a6170" stroke-width="1.5"/><line x1="504.3" y1="255" x2="512" y2="274.3" stroke="#6a6170" stroke-width="1.5"/><line x1="496.6" y1="293.6" x2="512" y2="274.3" stroke="#6a6170" stroke-width="1.5"/><line x1="496.6" y1="293.6" x2="474.3" y2="290.6" stroke="#6a6170" stroke-width="1.5"/><circle cx="467.9" cy="268.7" r="7.2" fill="url(#gMoc)"/><circle cx="504.3" cy="255" r="7.2" fill="url(#gMoc)"/><circle cx="496.6" cy="293.6" r="7.2" fill="url(#gMoc)"/><circle cx="481.6" cy="250.7" r="6" fill="url(#gSc)"/><circle cx="512" cy="274.3" r="6" fill="url(#gSc)"/><circle cx="474.3" cy="290.6" r="6" fill="url(#gSc)"/></g><path d="M467.9 268.7 L504.3 255 L496.6 293.6 Z" fill="none" stroke="#e66fd8" stroke-width="2.4" stroke-linejoin="round"/><g filter="url(#coresh)"><line x1="467.9" y1="340.8" x2="474.3" y2="317.2" stroke="#6a6170" stroke-width="1.5"/><line x1="467.9" y1="340.8" x2="481.6" y2="356.6" stroke="#6a6170" stroke-width="1.5"/><line x1="495.7" y1="317.2" x2="474.3" y2="317.2" stroke="#6a6170" stroke-width="1.5"/><line x1="495.7" y1="317.2" x2="512" y2="330.9" stroke="#6a6170" stroke-width="1.5"/><line x1="504.3" y1="352.3" x2="512" y2="330.9" stroke="#6a6170" stroke-width="1.5"/><line x1="504.3" y1="352.3" x2="481.6" y2="356.6" stroke="#6a6170" stroke-width="1.5"/><circle cx="467.9" cy="340.8" r="7.2" fill="url(#gMoc)"/><circle cx="495.7" cy="317.2" r="7.2" fill="url(#gMoc)"/><circle cx="504.3" cy="352.3" r="7.2" fill="url(#gMoc)"/><circle cx="474.3" cy="317.2" r="6" fill="url(#gSc)"/><circle cx="512" cy="330.9" r="6" fill="url(#gSc)"/><circle cx="481.6" cy="356.6" r="6" fill="url(#gSc)"/></g><path d="M467.9 340.8 L495.7 317.2 L504.3 352.3 Z" fill="none" stroke="#1f9b5e" stroke-width="2.4" stroke-linejoin="round"/><g stroke="#222" stroke-width="0.9" stroke-dasharray="3 1.5"><path d="M429.3 261.5 L525.7 278.6"/><path d="M427.1 348 L527.9 330"/></g><path d="M443.5 271 Q424 305 443.5 339" stroke="#111" stroke-width="1.3" fill="none"/><path d="M445.6 267 L444.4 275.2 L439.6 272.4 Z M445.6 343 L444.4 334.8 L439.6 337.6 Z" fill="#111"/><text x="407" y="311" font-family="Liberation Serif, serif" font-style="italic" font-size="18" fill="#111">θ</text><text x="416.5" y="315" font-family="Liberation Serif, serif" font-size="12" fill="#111">d</text></g>
<g id="pb"><text x="548.5" y="19" font-family="Liberation Sans, sans-serif" font-size="23" font-weight="bold" fill="#000" stroke="#000" stroke-width="1.05">b</text><text x="551" y="42.5" font-family="Liberation Serif, serif" font-style="italic" font-size="18" fill="#111">θ</text><text x="560.5" y="46.5" font-family="Liberation Sans, sans-serif" font-size="11" fill="#111">d</text><text x="570" y="42.5" font-family="Liberation Sans, sans-serif" font-size="15.5" fill="#111">= 2°</text><path d="M558.3 50 L558.3 65 M568.4 50 L568 65 M558.5 59.5 Q563.3 55.5 568.2 59.5" stroke="#bbb" stroke-width="1" fill="none"/><clipPath id="cpb"><rect x="553.5" y="65.0" width="327.5" height="327.5"/></clipPath><g clip-path="url(#cpb)"><rect x="553.5" y="65.0" width="327.5" height="327.5" fill="#1b1b1b"/><rect x="553.5" y="65.0" width="327.5" height="327.5" filter="url(#stemnoise)" opacity="0.5"/><path d="M551.1 70.6h0M551.0 87.5h0M550.8 104.3h0M550.6 121.1h0M550.4 137.8h0M550.2 154.6h0M549.9 171.3h0M549.6 188.1h0M549.4 204.9h0M549.2 221.7h0M549.1 238.6h0M549.1 255.6h0M549.2 272.5h0M549.4 289.3h0M549.6 306.1h0M549.9 322.9h0M550.2 339.6h0M550.4 356.4h0M550.6 373.1h0M550.8 389.9h0M565.1 62.4h0M565.0 79.3h0M564.9 96.1h0M564.7 112.9h0M564.5 129.7h0M564.3 146.4h0M564.0 163.2h0M563.7 179.9h0M563.4 196.6h0M563.1 213.4h0M562.9 230.2h0M562.9 264.0h0M563.1 280.8h0M563.4 297.6h0M563.7 314.3h0M564.0 331.0h0M564.3 347.8h0M564.5 364.5h0M564.7 381.3h0M579.0 71.1h0M578.9 88.0h0M578.8 104.8h0M578.6 121.6h0M578.4 138.3h0M578.2 155.1h0M577.8 171.7h0M577.5 188.4h0M577.1 205.1h0M576.8 221.8h0M576.6 238.6h0M576.6 255.6h0M576.8 272.4h0M577.1 289.1h0M577.5 305.8h0M577.8 322.5h0M578.2 339.1h0M578.4 355.9h0M578.6 372.6h0M578.8 389.4h0M593.1 63.0h0M593.0 79.9h0M592.8 96.7h0M592.7 113.5h0M592.5 130.3h0M592.3 147.1h0M592.0 163.7h0M591.7 180.4h0M591.3 196.9h0M590.8 213.5h0M590.4 230.2h0M590.4 264.0h0M590.8 280.7h0M591.3 297.3h0M591.7 313.8h0M592.0 330.5h0M592.3 347.1h0M592.5 363.9h0M592.7 380.7h0M592.8 397.5h0M607.0 71.8h0M606.9 88.7h0M606.8 105.5h0M606.6 122.4h0M606.5 139.1h0M606.2 155.9h0M606.0 172.5h0M605.6 189.1h0M605.0 205.5h0M604.4 222.0h0M604.0 238.6h0M604.0 255.6h0M604.4 272.2h0M605.0 288.7h0M605.6 305.1h0M606.0 321.7h0M606.2 338.3h0M606.5 355.1h0M606.6 371.8h0M606.8 388.7h0M621.0 63.7h0M620.9 80.6h0M620.8 97.5h0M620.7 114.4h0M620.5 131.2h0M620.4 148.1h0M620.2 164.8h0M619.9 181.5h0M619.5 197.9h0M618.8 214.2h0M617.8 230.4h0M617.8 263.8h0M618.8 280.0h0M619.5 296.3h0M619.9 312.7h0M620.2 329.4h0M620.4 346.1h0M620.5 363.0h0M620.7 379.8h0M620.8 396.7h0M634.9 72.5h0M634.8 89.4h0M634.7 106.4h0M634.6 123.3h0M634.4 140.3h0M634.3 157.1h0M634.1 174.0h0M633.8 190.7h0M633.4 207.2h0M632.5 223.1h0M631.0 238.6h0M631.0 255.6h0M632.5 271.1h0M633.4 287.0h0M633.8 303.5h0M634.1 320.2h0M634.3 337.1h0M634.4 353.9h0M634.6 370.9h0M634.7 387.8h0M648.8 64.4h0M648.7 81.4h0M648.6 98.4h0M648.5 115.4h0M648.4 132.4h0M648.3 149.4h0M648.1 166.4h0M648.0 183.4h0M647.7 200.4h0M647.3 217.5h0M646.4 234.7h0M646.4 259.5h0M647.3 276.7h0M647.7 293.8h0M648.0 310.8h0M648.1 327.8h0M648.3 344.8h0M648.4 361.8h0M648.5 378.8h0M648.6 395.8h0M662.7 73.2h0M662.6 90.3h0M662.5 107.3h0M662.4 124.4h0M662.2 141.5h0M662.1 158.6h0M661.9 175.8h0M661.6 193.1h0M661.2 210.6h0M660.3 228.7h0M658.8 247.1h0M660.3 265.5h0M661.2 283.6h0M661.6 301.1h0M661.9 318.4h0M662.1 335.6h0M662.2 352.7h0M662.4 369.8h0M662.5 386.9h0M676.6 65.1h0M676.5 82.2h0M676.4 99.2h0M676.3 116.4h0M676.1 133.5h0M676.0 150.7h0M675.8 167.9h0M675.5 185.3h0M675.0 202.8h0M674.3 220.6h0M673.4 238.3h0M673.4 255.9h0M674.3 273.6h0M675.0 291.4h0M675.5 308.9h0M675.8 326.3h0M676.0 343.5h0M676.1 360.7h0M676.3 377.8h0M676.4 395.0h0M690.4 74.0h0M690.3 91.1h0M690.2 108.2h0M690.0 125.4h0M689.8 142.6h0M689.6 159.9h0M689.3 177.2h0M688.9 194.7h0M688.4 212.2h0M687.8 229.7h0M687.5 247.1h0M687.8 264.5h0M688.4 282.0h0M688.9 299.5h0M689.3 317.0h0M689.6 334.3h0M689.8 351.6h0M690.0 368.8h0M690.2 386.0h0M704.3 65.7h0M704.2 82.9h0M704.0 100.0h0M703.9 117.2h0M703.7 134.4h0M703.5 151.7h0M703.2 169.0h0M702.9 186.4h0M702.5 203.8h0M702.0 221.2h0M701.6 238.5h0M701.6 255.7h0M702.0 273.0h0M702.5 290.4h0M702.9 307.8h0M703.2 325.2h0M703.5 342.5h0M703.7 359.8h0M703.9 377.0h0M704.0 394.2h0M718.0 74.6h0M717.9 91.7h0M717.8 108.9h0M717.6 126.1h0M717.4 143.4h0M717.1 160.7h0M716.8 178.0h0M716.5 195.3h0M716.1 212.6h0M715.8 229.9h0M715.6 247.1h0M715.8 264.3h0M716.1 281.6h0M716.5 298.9h0M716.8 316.2h0M717.1 333.5h0M717.4 350.8h0M717.6 368.1h0M717.8 385.3h0M731.9 66.3h0M731.8 83.4h0M731.7 100.6h0M731.5 117.8h0M731.3 135.0h0M731.1 152.3h0M730.8 169.6h0M730.5 186.8h0M730.2 204.1h0M729.9 221.3h0M729.7 238.5h0M729.7 255.7h0M729.9 272.9h0M730.2 290.1h0M730.5 307.4h0M730.8 324.6h0M731.1 341.9h0M731.3 359.2h0M731.5 376.4h0M731.7 393.6h0M745.7 75.1h0M745.6 92.3h0M745.4 109.5h0M745.2 126.7h0M745.0 143.9h0M744.8 161.1h0M744.5 178.4h0M744.2 195.6h0M744.0 212.8h0M743.8 230.0h0M743.7 247.1h0M743.8 264.2h0M744.0 281.4h0M744.2 298.6h0M744.5 315.8h0M744.8 333.1h0M745.0 350.3h0M745.2 367.5h0M745.4 384.7h0M759.6 66.7h0M759.4 83.9h0M759.3 101.1h0M759.1 118.3h0M758.9 135.5h0M758.7 152.7h0M758.5 169.9h0M758.2 187.1h0M758.0 204.3h0M757.8 221.4h0M757.7 238.5h0M757.7 255.7h0M757.8 272.8h0M758.0 289.9h0M758.2 307.1h0M758.5 324.3h0M758.7 341.5h0M758.9 358.7h0M759.1 375.9h0M759.3 393.1h0M773.3 75.5h0M773.2 92.7h0M773.0 109.8h0M772.9 127.0h0M772.7 144.2h0M772.4 161.4h0M772.2 178.6h0M772.0 195.7h0M771.9 212.9h0M771.7 230.0h0M771.7 247.1h0M771.7 264.2h0M771.9 281.3h0M772.0 298.5h0M772.2 315.6h0M772.4 332.8h0M772.7 350.0h0M772.9 367.2h0M773.0 384.4h0M787.3 67.1h0M787.1 84.2h0M787.0 101.4h0M786.8 118.6h0M786.6 135.7h0M786.4 152.9h0M786.2 170.1h0M786.0 187.2h0M785.9 204.3h0M785.8 221.5h0M785.7 238.6h0M785.7 255.6h0M785.8 272.7h0M785.9 289.9h0M786.0 307.0h0M786.2 324.1h0M786.4 341.3h0M786.6 358.5h0M786.8 375.6h0M787.0 392.8h0M801.0 75.8h0M800.9 92.9h0M800.7 110.1h0M800.6 127.3h0M800.4 144.4h0M800.2 161.6h0M800.0 178.7h0M799.9 195.8h0M799.8 212.9h0M799.7 230.0h0M799.7 247.1h0M799.7 264.2h0M799.8 281.3h0M799.9 298.4h0M800.0 315.5h0M800.2 332.6h0M800.4 349.8h0M800.6 366.9h0M800.7 384.1h0M814.9 67.4h0M814.8 84.5h0M814.7 101.6h0M814.5 118.8h0M814.3 135.9h0M814.2 153.0h0M814.0 170.2h0M813.9 187.3h0M813.8 204.4h0M813.7 221.5h0M813.6 238.6h0M813.6 255.6h0M813.7 272.7h0M813.8 289.8h0M813.9 306.9h0M814.0 324.0h0M814.2 341.2h0M814.3 358.3h0M814.5 375.4h0M814.7 392.6h0M828.7 76.0h0M828.6 93.2h0M828.4 110.3h0M828.3 127.4h0M828.2 144.5h0M828.0 161.7h0M827.9 178.8h0M827.8 195.9h0M827.7 212.9h0M827.6 230.0h0M827.6 247.1h0M827.6 264.2h0M827.7 281.3h0M827.8 298.3h0M827.9 315.4h0M828.0 332.5h0M828.2 349.7h0M828.3 366.8h0M828.4 383.9h0M842.7 67.6h0M842.5 84.7h0M842.4 101.8h0M842.3 118.9h0M842.1 136.0h0M842.0 153.1h0M841.8 170.2h0M841.7 187.3h0M841.6 204.4h0M841.6 221.5h0M841.5 238.6h0M841.5 255.6h0M841.6 272.7h0M841.6 289.8h0M841.7 306.9h0M841.8 324.0h0M842.0 341.1h0M842.1 358.2h0M842.3 375.3h0M842.4 392.4h0M856.5 76.2h0M856.3 93.3h0M856.2 110.4h0M856.1 127.5h0M855.9 144.6h0M855.8 161.7h0M855.7 178.8h0M855.6 195.9h0M855.6 213.0h0M855.5 230.0h0M855.5 247.1h0M855.5 264.2h0M855.6 281.2h0M855.6 298.3h0M855.7 315.4h0M855.8 332.5h0M855.9 349.6h0M856.1 366.7h0M856.2 383.8h0M870.4 67.7h0M870.3 84.8h0M870.1 101.9h0M870.0 119.0h0M869.9 136.1h0M869.8 153.2h0M869.7 170.3h0M869.6 187.4h0M869.5 204.4h0M869.5 221.5h0M869.4 238.6h0M869.4 255.6h0M869.5 272.7h0M869.5 289.8h0M869.6 306.8h0M869.7 323.9h0M869.8 341.0h0M869.9 358.1h0M870.0 375.2h0M870.1 392.3h0M884.2 76.3h0M884.1 93.4h0M884.0 110.5h0M883.9 127.6h0M883.8 144.7h0M883.7 161.8h0M883.6 178.9h0M883.5 195.9h0M883.4 213.0h0M883.4 230.0h0M883.4 247.1h0M883.4 264.2h0M883.4 281.2h0M883.5 298.3h0M883.6 315.3h0M883.7 332.4h0M883.8 349.5h0M883.9 366.6h0M884.0 383.7h0M617.6 247.1h0M590.4 247.1h0M562.9 247.1h0" stroke="#4a4a4a" stroke-width="4.2" stroke-linecap="round" fill="none" filter="url(#blS)"/><path d="M560.4 70.8h0M559.9 121.2h0M558.6 205.0h0M558.3 238.6h0M558.9 306.0h0M559.2 322.7h0M574.3 79.5h0M574.2 96.3h0M574.0 113.1h0M573.3 163.3h0M573.0 180.0h0M572.6 196.7h0M572.1 230.2h0M572.3 280.8h0M588.1 105.0h0M587.8 138.6h0M587.5 155.3h0M587.2 171.9h0M586.4 205.2h0M602.3 80.1h0M602.0 113.8h0M601.4 164.0h0M599.6 263.9h0M600.0 280.5h0M601.7 346.8h0M601.9 363.6h0M616.3 72.0h0M616.1 105.8h0M615.8 139.5h0M615.6 156.2h0M613.6 222.1h0M613.1 238.6h0M614.4 288.3h0M630.3 63.9h0M630.2 80.8h0M630.0 114.7h0M629.9 131.6h0M629.7 148.5h0M628.9 198.6h0M628.3 214.8h0M629.3 312.2h0M629.5 328.9h0M630.1 396.4h0M643.2 191.5h0M642.3 269.4h0M658.1 64.6h0M657.7 132.8h0M656.9 201.4h0M656.4 219.0h0M657.7 361.4h0M657.9 395.5h0M671.9 73.5h0M670.2 211.4h0M668.5 247.1h0M671.6 369.4h0M671.7 386.6h0M685.7 82.4h0M685.3 133.8h0M684.9 168.4h0M684.1 203.3h0M682.8 238.4h0M682.8 255.8h0M684.9 325.8h0M685.3 360.4h0M685.5 377.5h0M699.6 74.2h0M699.0 142.9h0M698.8 160.2h0M698.5 177.5h0M697.6 212.4h0M697.1 264.4h0M698.5 316.7h0M699.4 385.7h0M711.0 255.7h0M711.7 290.3h0M712.1 307.6h0M712.4 325.0h0M727.1 91.9h0M727.0 109.1h0M725.4 212.7h0M725.1 229.9h0M725.4 281.5h0M725.7 298.8h0M726.0 316.1h0M726.3 333.4h0M726.8 367.9h0M741.0 83.6h0M740.9 100.8h0M740.5 135.2h0M740.3 152.4h0M739.4 204.2h0M739.2 221.4h0M739.4 290.0h0M740.0 324.5h0M740.5 359.0h0M754.8 92.4h0M754.4 126.8h0M754.2 144.0h0M754.0 161.2h0M753.5 195.6h0M753.3 212.8h0M753.1 230.0h0M753.1 264.2h0M753.3 281.4h0M754.2 350.2h0M754.6 384.6h0M767.9 152.8h0M767.3 204.3h0M767.1 221.4h0M767.0 238.5h0M767.0 255.7h0M767.1 272.8h0M767.3 289.9h0M767.5 307.1h0M767.9 341.4h0M768.1 358.6h0M782.3 109.9h0M781.9 144.3h0M781.2 281.3h0M781.7 332.7h0M781.9 349.9h0M782.3 384.3h0M796.3 84.3h0M796.0 118.6h0M795.9 135.8h0M795.0 238.6h0M795.2 289.8h0M810.3 75.9h0M810.1 93.0h0M810.0 110.2h0M809.3 178.7h0M809.1 212.9h0M809.0 247.1h0M809.0 264.2h0M809.6 349.7h0M810.0 384.0h0M823.9 101.7h0M823.3 170.2h0M823.1 204.4h0M822.9 238.6h0M822.9 255.6h0M823.1 289.8h0M823.3 324.0h0M823.6 358.2h0M823.9 392.5h0M838.0 76.1h0M837.7 110.3h0M837.6 127.5h0M837.4 144.6h0M836.9 230.0h0M836.9 247.1h0M837.1 315.4h0M837.3 332.5h0M837.6 366.7h0M851.9 67.6h0M851.4 136.1h0M851.2 153.2h0M851.1 170.3h0M851.0 187.4h0M850.9 204.4h0M851.6 392.4h0M865.5 110.5h0M865.2 144.7h0M864.8 247.1h0M864.8 281.2h0M864.9 298.3h0M865.0 315.4h0M879.5 84.9h0M879.4 102.0h0M879.2 136.1h0M879.1 153.2h0M878.8 221.5h0M879.2 358.1h0M879.4 392.2h0" stroke="#ffffff" stroke-width="5.5" stroke-linecap="round" fill="none" filter="url(#blM)"/><path d="M559.7 138.0h0M559.2 171.5h0M558.3 255.6h0M558.4 272.4h0M559.5 339.5h0M560.1 389.8h0M574.4 62.6h0M573.6 146.6h0M572.1 264.0h0M572.6 297.5h0M573.0 314.2h0M573.6 347.6h0M573.8 364.3h0M574.0 381.1h0M588.2 88.2h0M588.0 121.8h0M586.8 188.6h0M586.0 221.8h0M585.8 238.6h0M585.8 255.6h0M586.0 272.4h0M586.8 305.6h0M587.5 338.9h0M588.1 389.2h0M602.2 97.0h0M601.9 130.6h0M601.1 180.6h0M601.1 313.6h0M601.4 330.2h0M602.0 380.4h0M602.2 397.2h0M616.2 88.9h0M616.0 122.7h0M615.4 172.9h0M615.0 189.5h0M614.4 205.9h0M615.0 304.7h0M615.6 338.0h0M616.0 371.5h0M630.1 97.8h0M627.0 230.6h0M627.0 263.6h0M628.9 295.6h0M629.7 345.7h0M629.9 362.6h0M630.0 379.5h0M644.1 72.7h0M644.0 89.7h0M644.0 106.7h0M643.7 140.7h0M639.3 238.6h0M639.3 255.6h0M642.9 285.9h0M643.2 302.7h0M643.4 319.6h0M643.7 353.5h0M644.0 387.5h0M658.0 81.6h0M657.8 115.7h0M657.6 149.8h0M654.9 237.6h0M654.9 256.6h0M656.4 275.2h0M656.9 292.8h0M657.4 327.3h0M657.6 344.4h0M671.8 90.6h0M671.7 107.6h0M671.6 124.8h0M671.5 141.9h0M670.7 193.8h0M669.3 229.3h0M669.3 264.9h0M670.2 282.8h0M671.1 317.8h0M671.3 335.1h0M671.5 352.3h0M685.6 99.5h0M685.2 151.1h0M684.6 185.8h0M683.5 220.9h0M684.1 290.9h0M684.6 308.4h0M685.2 343.1h0M685.6 394.7h0M699.4 108.5h0M699.2 125.7h0M697.1 229.8h0M697.6 281.8h0M698.1 299.2h0M699.0 351.3h0M713.5 65.9h0M713.4 83.1h0M713.1 117.4h0M712.9 134.6h0M712.7 151.9h0M712.4 169.2h0M712.1 186.6h0M711.7 203.9h0M711.0 238.5h0M711.3 273.0h0M712.7 342.3h0M713.2 394.0h0M726.8 126.3h0M726.3 160.8h0M725.7 195.4h0M725.1 264.3h0M727.0 385.1h0M740.7 118.0h0M739.7 186.9h0M739.2 272.8h0M740.3 341.8h0M740.7 376.2h0M754.9 75.2h0M754.6 109.6h0M753.0 247.1h0M753.5 298.6h0M754.0 333.0h0M754.4 367.4h0M768.8 66.9h0M768.1 135.6h0M767.7 169.9h0M767.5 187.1h0M767.7 324.3h0M782.6 75.6h0M782.4 92.8h0M782.1 127.1h0M781.7 161.5h0M781.5 178.6h0M781.3 195.8h0M781.1 230.0h0M781.0 247.1h0M781.1 264.2h0M781.3 298.4h0M781.5 315.6h0M796.5 67.2h0M795.7 153.0h0M795.5 170.1h0M795.1 221.5h0M795.1 272.7h0M795.3 307.0h0M795.5 324.1h0M795.7 341.2h0M795.9 358.4h0M796.0 375.6h0M796.2 392.7h0M809.6 144.5h0M809.2 195.8h0M809.0 230.0h0M809.1 281.3h0M809.2 298.4h0M809.5 332.6h0M809.8 366.9h0M824.0 84.6h0M823.8 118.8h0M823.0 221.5h0M823.0 272.7h0M823.8 375.4h0M837.8 93.2h0M837.3 161.7h0M837.1 178.8h0M837.0 213.0h0M851.6 101.8h0M850.9 221.5h0M850.8 255.6h0M850.9 272.7h0M850.9 289.8h0M851.1 323.9h0M851.2 341.0h0M851.5 375.2h0M865.7 76.2h0M865.3 127.6h0M865.1 161.7h0M864.8 230.0h0M864.8 264.2h0M865.1 332.5h0M865.2 349.5h0M865.5 383.7h0M879.3 119.1h0M878.8 204.5h0M878.7 255.6h0M878.8 272.7h0M879.1 341.0h0M879.3 375.1h0M626.6 247.1h0M599.5 247.1h0M572.0 247.1h0" stroke="#ffffff" stroke-width="5.1" stroke-linecap="round" fill="none" filter="url(#blM)"/><path d="M560.3 87.6h0M560.1 104.4h0M559.5 154.7h0M558.9 188.2h0M558.4 221.8h0M558.6 289.2h0M559.7 356.2h0M559.9 373.0h0M573.8 129.9h0M572.3 213.4h0M573.3 330.9h0M588.4 71.3h0M586.4 289.0h0M587.2 322.3h0M587.8 355.6h0M588.0 372.4h0M602.4 63.2h0M601.7 147.4h0M600.6 197.2h0M600.0 213.7h0M599.6 230.3h0M600.6 297.0h0M613.1 255.6h0M613.6 272.1h0M615.4 321.3h0M615.8 354.7h0M616.1 388.4h0M629.5 165.3h0M629.3 182.0h0M628.3 279.4h0M643.9 123.7h0M643.6 157.6h0M643.4 174.6h0M642.9 208.3h0M642.3 224.8h0M643.6 336.6h0M643.9 370.5h0M657.9 98.7h0M657.4 166.9h0M657.2 184.1h0M657.2 310.1h0M657.8 378.5h0M671.3 159.1h0M671.1 176.4h0M670.7 300.4h0M685.8 65.3h0M685.5 116.7h0M683.5 273.3h0M699.5 91.3h0M698.1 195.0h0M696.9 247.1h0M698.8 334.0h0M699.2 368.5h0M713.2 100.2h0M711.3 221.2h0M712.9 359.6h0M713.1 376.8h0M727.3 74.8h0M726.6 143.6h0M726.0 178.1h0M725.0 247.1h0M726.6 350.6h0M741.1 66.4h0M740.0 169.7h0M739.1 238.5h0M739.1 255.7h0M739.7 307.3h0M740.9 393.4h0M753.7 178.4h0M753.7 315.8h0M768.7 84.0h0M768.5 101.2h0M768.3 118.4h0M768.3 375.8h0M768.5 393.0h0M781.2 212.9h0M782.1 367.1h0M796.2 101.5h0M795.3 187.2h0M795.2 204.4h0M795.0 255.6h0M809.8 127.3h0M809.5 161.6h0M809.3 315.5h0M824.2 67.4h0M823.6 136.0h0M823.4 153.1h0M823.2 187.3h0M823.2 306.9h0M823.4 341.1h0M837.0 195.9h0M836.9 264.2h0M837.0 281.2h0M837.0 298.3h0M837.4 349.6h0M837.7 383.9h0M851.8 84.7h0M851.5 119.0h0M850.8 238.6h0M851.0 306.8h0M851.4 358.1h0M865.6 93.4h0M865.0 178.8h0M864.9 195.9h0M864.8 213.0h0M865.3 366.6h0M879.6 67.8h0M879.0 170.3h0M878.9 187.4h0M878.7 238.6h0M878.8 289.7h0M878.9 306.8h0M879.0 323.9h0" stroke="#f0f0f0" stroke-width="4.7" stroke-linecap="round" fill="none" filter="url(#blM)"/></g><path d="M558.3 65 L558.3 392.5 M568 65 L558.6 392.5" stroke="#d8d8d8" stroke-width="1" fill="none"/><g stroke="#2f86ad" stroke-width="1.5" fill="none"><rect x="592.5" y="210" width="76" height="74"/><path d="M592.5 210 L717 67.5 M668.5 284 L879.5 228.5"/></g><rect x="752.6" y="373.2" width="111.2" height="5.6" fill="#fff"/><text x="787" y="367.4" font-family="Liberation Sans, sans-serif" font-size="16" fill="#fff" textLength="38" lengthAdjust="spacingAndGlyphs">2 nm</text><clipPath id="cpi"><rect x="717.5" y="67.2" width="161.5" height="161.0"/></clipPath><g clip-path="url(#cpi)"><rect x="717.5" y="67.2" width="161.5" height="161.0" fill="#131313"/><rect x="717.5" y="67.2" width="161.5" height="161.0" filter="url(#stemnoise2)" opacity="0.32"/><circle cx="796.9" cy="69.3" r="10.5" fill="url(#gSpot)" opacity="1.00"/><circle cx="856.9" cy="76.6" r="10.5" fill="url(#gSpot)" opacity="1.00"/><circle cx="824.8" cy="91" r="10.5" fill="url(#gSpot)" opacity="1.00"/><circle cx="767.9" cy="79.7" r="9.4" fill="url(#gSpot)" opacity="0.80"/><circle cx="739" cy="93.1" r="9.4" fill="url(#gSpot)" opacity="0.80"/><circle cx="794.8" cy="104.5" r="10.5" fill="url(#gSpot)" opacity="1.00"/><circle cx="854.8" cy="114.8" r="10.5" fill="url(#gSpot)" opacity="1.00"/><circle cx="770" cy="116.9" r="8.8" fill="url(#gSpot)" opacity="0.70"/><circle cx="737.9" cy="131.4" r="10.5" fill="url(#gSpot)" opacity="1.00"/><circle cx="822.8" cy="129.3" r="10.0" fill="url(#gSpot)" opacity="0.90"/><circle cx="762.8" cy="147.9" r="11.3" fill="url(#gSpot)" opacity="1.00"/><circle cx="852.8" cy="156.2" r="10.5" fill="url(#gSpot)" opacity="1.00"/><circle cx="734.8" cy="165.5" r="10.5" fill="url(#gSpot)" opacity="1.00"/><circle cx="788.6" cy="168.6" r="8.1" fill="url(#gSpot)" opacity="0.60"/><circle cx="822.8" cy="175.9" r="10.5" fill="url(#gSpot)" opacity="1.00"/><circle cx="791.7" cy="197.6" r="10.5" fill="url(#gSpot)" opacity="1.00"/><circle cx="852.8" cy="195.5" r="10.5" fill="url(#gSpot)" opacity="1.00"/><circle cx="760.7" cy="184.1" r="8.8" fill="url(#gSpot)" opacity="0.70"/><circle cx="733.8" cy="202.8" r="8.8" fill="url(#gSpot)" opacity="0.70"/><circle cx="762.8" cy="219.3" r="8.8" fill="url(#gSpot)" opacity="0.70"/><circle cx="825.9" cy="217" r="10.0" fill="url(#gSpot)" opacity="0.90"/><circle cx="881" cy="96" r="8.8" fill="url(#gSpot)" opacity="0.70"/><circle cx="881" cy="136" r="8.8" fill="url(#gSpot)" opacity="0.70"/><circle cx="881" cy="176" r="8.8" fill="url(#gSpot)" opacity="0.70"/><circle cx="881" cy="214" r="8.8" fill="url(#gSpot)" opacity="0.70"/><circle cx="793.8" cy="137.6" r="7.8" fill="url(#gSpot)" opacity="0.55"/><circle cx="716" cy="112" r="8.1" fill="url(#gSpot)" opacity="0.60"/><circle cx="716" cy="148" r="8.1" fill="url(#gSpot)" opacity="0.60"/><circle cx="716" cy="184" r="8.1" fill="url(#gSpot)" opacity="0.60"/><circle cx="793" cy="232" r="9.4" fill="url(#gSpot)" opacity="0.80"/><circle cx="853" cy="233" r="9.4" fill="url(#gSpot)" opacity="0.80"/><circle cx="826" cy="55" r="7.4" fill="url(#gSpot)" opacity="0.50"/><circle cx="778.3" cy="134.9" r="10" fill="url(#gHaze)"/><circle cx="808.3" cy="133.4" r="10" fill="url(#gHaze)"/><circle cx="832.1" cy="154.1" r="10" fill="url(#gHaze)"/><circle cx="805.2" cy="173.8" r="10" fill="url(#gHaze)"/><circle cx="773.1" cy="163.4" r="10" fill="url(#gHaze)"/><circle cx="750" cy="112" r="10" fill="url(#gHaze)"/><circle cx="752" cy="150" r="10" fill="url(#gHaze)"/><circle cx="748" cy="186" r="10" fill="url(#gHaze)"/><circle cx="780" cy="98" r="10" fill="url(#gHaze)"/><circle cx="810" cy="88" r="10" fill="url(#gHaze)"/><circle cx="840" cy="98" r="10" fill="url(#gHaze)"/><circle cx="838" cy="136" r="10" fill="url(#gHaze)"/><circle cx="812" cy="112" r="10" fill="url(#gHaze)"/><circle cx="838" cy="176" r="10" fill="url(#gHaze)"/><circle cx="808" cy="196" r="10" fill="url(#gHaze)"/><circle cx="776" cy="204" r="10" fill="url(#gHaze)"/><circle cx="840" cy="214" r="10" fill="url(#gHaze)"/><circle cx="868" cy="118" r="10" fill="url(#gHaze)"/><circle cx="868" cy="158" r="10" fill="url(#gHaze)"/><circle cx="868" cy="196" r="10" fill="url(#gHaze)"/><circle cx="780" cy="62" r="10" fill="url(#gHaze)"/><circle cx="840" cy="62" r="10" fill="url(#gHaze)"/><circle cx="722" cy="130" r="10" fill="url(#gHaze)"/><circle cx="722" cy="166" r="10" fill="url(#gHaze)"/><circle cx="724" cy="94" r="10" fill="url(#gHaze)"/><circle cx="724" cy="204" r="10" fill="url(#gHaze)"/></g><path d="M762.8 147.9 L778.3 134.9 L793.8 137.6 L808.3 133.4 L822.8 131.4 L832.1 154.1 L825.9 175.9 L805.2 173.8 L789.7 166.6 L773.1 163.4 Z M793.8 137.6 L789.7 166.6" stroke="#e8e8e8" stroke-width="0.9" fill="none" opacity="0.85"/><circle cx="778.3" cy="134.9" r="6.2" fill="none" stroke="#c9cb35" stroke-width="1.3"/><circle cx="808.3" cy="133.4" r="6.2" fill="none" stroke="#c9cb35" stroke-width="1.3"/><circle cx="832.1" cy="154.1" r="6.2" fill="none" stroke="#c9cb35" stroke-width="1.3"/><circle cx="805.2" cy="173.8" r="6.2" fill="none" stroke="#c9cb35" stroke-width="1.3"/><circle cx="773.1" cy="163.4" r="6.2" fill="none" stroke="#c9cb35" stroke-width="1.3"/><path d="M800 152.5 L818 152.5 M819 144.2 L819 163.6" stroke="#fff" stroke-width="4.4" fill="none"/><path d="M737.4 97.4 L771.2 80.2 L769.4 118.4 Z" fill="none" stroke="#e272da" stroke-width="4.4" stroke-linejoin="miter"/><path d="M732.2 201.6 L762 183.6 L763.8 219.6 Z" fill="none" stroke="#22a862" stroke-width="4.4" stroke-linejoin="miter"/><rect x="811.4" y="214.1" width="62" height="4.8" fill="#fff"/><rect x="717.5" y="67.2" width="161.5" height="161.0" fill="none" stroke="#2f86ad" stroke-width="2.2"/></g>
<g id="pc"><text x="6.5" y="467" font-family="Liberation Sans, sans-serif" font-size="23" font-weight="bold" fill="#000" stroke="#000" stroke-width="1.05">c</text><path d="M117.6 626.5 L30.599999999999994 823.0 A87.0 25.0 0 0 0 204.6 823.0 Z" fill="url(#gCone)"/><path d="M117.6 626.5 L30.599999999999994 823.0 A87.0 25.0 0 0 0 204.6 823.0 Z" fill="url(#gConeV)"/><path d="M32.0 808.0 L147.0 790.6 L200.4 824.0 L88.2 841.4 Z" fill="#bdbdbd" stroke="#e0484c" stroke-width="1.0" stroke-linejoin="round" fill-opacity="0.35"/><path d="M32.0 797.0 L147.0 779.6 L200.4 813.0 L88.2 830.4 Z" fill="#a8a8a8" stroke="#e0484c" stroke-width="1.0" stroke-linejoin="round" fill-opacity="0.45"/><path d="M32.0 786.0 L147.0 768.6 L200.4 802.0 L88.2 819.4 Z" fill="#7d7d7d" stroke="#d83a40" stroke-width="1.0" stroke-linejoin="round" fill-opacity="0.75"/><clipPath id="cpc1"><path d="M32.0 775.0 L147.0 757.6 L200.4 791.0 L88.2 808.4 Z"/></clipPath><path d="M32.0 775.0 L147.0 757.6 L200.4 791.0 L88.2 808.4 Z" fill="#060606"/><g clip-path="url(#cpc1)"><ellipse cx="125.6" cy="782.8" rx="52" ry="17" fill="url(#gGlowW)" transform="rotate(4 125.6 782.8)"/><ellipse cx="125.6" cy="782.8" rx="21" ry="6.5" fill="url(#gGlowW2)" transform="rotate(4 125.6 782.8)"/><path d="M73.6 771.3 L124.6 780.1999999999999 L127.6 785.0 L118.6 785.5999999999999 L71.6 777.3 Z" fill="#050505"/><path d="M88.4 801.7h0M69.3 790.3h0M87.8 794.6h0M106.2 799.0h0M50.2 779.0h0M68.7 783.3h0M87.1 787.6h0M105.6 791.9h0M124.1 796.3h0M68.0 776.3h0M86.5 780.6h0M104.9 784.9h0M123.4 789.2h0M141.9 793.6h0M85.8 773.6h0M104.3 777.9h0M141.2 786.5h0M159.7 790.9h0M103.7 770.9h0M122.1 775.2h0M140.6 779.5h0M159.1 783.8h0M177.5 788.2h0M121.5 768.2h0M140.0 772.5h0M158.4 776.8h0M176.9 781.2h0M139.3 765.5h0M157.8 769.8h0" stroke="#c4c4c4" stroke-width="1.7" stroke-linecap="round" fill="none" opacity="0.8"/></g><path d="M32.0 775.0 L147.0 757.6 L200.4 791.0 L88.2 808.4 Z" fill="none" stroke="#d8323c" stroke-width="2" stroke-linejoin="round"/><path d="M119.7 745.6h0M119.7 750.8h0M119.7 756h0" stroke="#333" stroke-width="1.3" stroke-linecap="round"/><clipPath id="cpc2"><path d="M37.4 712.2 L147.0 696.2 L199.1 728.2 L88.2 744.3 Z"/></clipPath><path d="M37.4 712.2 L147.0 696.2 L199.1 728.2 L88.2 744.3 Z" fill="#060606"/><g clip-path="url(#cpc2)"><ellipse cx="125.6" cy="720.4" rx="52" ry="17" fill="url(#gGlowW)" transform="rotate(4 125.6 720.4)"/><ellipse cx="125.6" cy="720.4" rx="21" ry="6.5" fill="url(#gGlowW2)" transform="rotate(4 125.6 720.4)"/><path d="M73.6 708.9 L124.6 717.8 L127.6 722.6 L118.6 723.1999999999999 L71.6 714.9 Z" fill="#050505"/><path d="M88.8 737.9h0M71.6 727.0h0M88.7 731.2h0M105.8 735.4h0M54.3 716.1h0M71.4 720.3h0M88.6 724.5h0M105.7 728.7h0M122.8 732.9h0M71.3 713.6h0M88.4 717.8h0M105.5 722.0h0M122.7 726.2h0M139.8 730.4h0M88.3 711.1h0M105.4 715.3h0M139.7 723.7h0M156.8 728.0h0M105.3 708.6h0M122.4 712.8h0M139.5 717.0h0M156.7 721.3h0M173.8 725.5h0M122.2 706.1h0M139.4 710.4h0M156.5 714.6h0M173.6 718.8h0M139.2 703.7h0M156.4 707.9h0" stroke="#c4c4c4" stroke-width="1.7" stroke-linecap="round" fill="none" opacity="0.8"/></g><path d="M37.4 712.2 L147.0 696.2 L199.1 728.2 L88.2 744.3 Z" fill="none" stroke="#27a86a" stroke-width="2" stroke-linejoin="round"/><path d="M13.0 586.0 L149.4 565.3 L215.0 607.9 L78.6 628.6 Z" fill="#9e9563" filter="url(#blur03c)"/><path d="M17.1 585.9 L38.9 582.6 L49.4 589.4 L27.6 592.7 Z" fill="#a9ad8a"/><path d="M38.2 597.9 L55.7 595.2 L63.9 600.6 L46.5 603.3 ZM56.0 609.5 L73.5 606.8 L81.8 612.2 L64.3 614.8 ZM73.9 621.1 L91.4 618.4 L99.6 623.8 L82.2 626.4 ZM56.1 580.9 L73.6 578.2 L81.8 583.6 L64.4 586.2 ZM73.9 592.5 L91.4 589.8 L99.7 595.2 L82.2 597.8 ZM91.8 604.1 L109.2 601.4 L117.5 606.8 L100.1 609.4 ZM109.6 615.6 L127.1 613.0 L135.4 618.4 L117.9 621.0 ZM91.8 575.5 L109.3 572.8 L117.6 578.2 L100.1 580.8 ZM109.7 587.0 L127.1 584.4 L135.4 589.8 L117.9 592.4 ZM127.5 598.6 L145.0 596.0 L153.2 601.3 L135.8 604.0 ZM145.4 610.2 L162.8 607.6 L171.1 612.9 L153.6 615.6 ZM127.6 570.0 L145.0 567.4 L153.3 572.7 L135.8 575.4 ZM145.4 581.6 L162.9 579.0 L171.1 584.3 L153.7 587.0 ZM163.3 593.2 L180.7 590.6 L189.0 595.9 L171.5 598.6 ZM181.1 604.8 L198.6 602.1 L206.8 607.5 L189.4 610.2 Z" fill="#d4a6b4" stroke="#cf3c40" stroke-width="1.3" stroke-linejoin="round" filter="url(#blur03c)"/><path d="M105.8 484.2 L110.3 579 L111.6 579 L116.4 484.2 Z" fill="url(#gBeam)"/><ellipse cx="111.1" cy="484.2" rx="5.3" ry="1.9" fill="#f6c543"/><path d="M110.4 576 L110.8 592 L111.4 576 Z" fill="#8a6a2a" opacity="0.6"/><path d="M87.9 474.6 L133.3 467.4" stroke="#ef8238" stroke-width="2.7"/><path d="M81.6 475.6 L90.2 478.6 L88.8 470.1 Z" fill="#ef8238"/><path d="M139.6 466.4 L132.4 471.9 L131.0 463.4 Z" fill="#ef8238"/><path d="M104.0 466.7 L117.8 475.7" stroke="#ef8238" stroke-width="2.7"/><path d="M98.6 463.2 L103.0 471.2 L107.7 464.0 Z" fill="#ef8238"/><path d="M123.2 479.2 L114.1 478.4 L118.8 471.2 Z" fill="#ef8238"/><text x="120.3" y="548.8" font-family="Liberation Sans, sans-serif" font-size="16" fill="#e9bd48">e<tspan font-size="9" dy="-7.5">−</tspan></text></g>
<g id="pd"><text x="222.5" y="467" font-family="Liberation Sans, sans-serif" font-size="23" font-weight="bold" fill="#000" stroke="#000" stroke-width="1.05">d</text><ellipse cx="344.8" cy="529.5" rx="95.2" ry="3" fill="#000" opacity="0.09" filter="url(#blur2d)"/><path d="M283.4 494.5 L407 494.5 L442 518 L247.6 518 Z" fill="url(#gSlab)" filter="url(#blur05d)"/><path d="M285.3 494.5 L250.6 518M287.3 494.5 L253.7 518M289.2 494.5 L256.7 518M291.1 494.5 L259.8 518M293.1 494.5 L262.8 518M295.0 494.5 L265.8 518M296.9 494.5 L268.9 518M298.8 494.5 L271.9 518M300.8 494.5 L274.9 518M302.7 494.5 L278.0 518M304.6 494.5 L281.0 518M306.6 494.5 L284.1 518M308.5 494.5 L287.1 518M310.4 494.5 L290.1 518M312.4 494.5 L293.2 518M314.3 494.5 L296.2 518M316.2 494.5 L299.2 518M318.2 494.5 L302.3 518M320.1 494.5 L305.3 518M322.0 494.5 L308.4 518M324.0 494.5 L311.4 518M325.9 494.5 L314.4 518M327.8 494.5 L317.5 518M329.8 494.5 L320.5 518M331.7 494.5 L323.5 518M333.6 494.5 L326.6 518M335.5 494.5 L329.6 518M337.5 494.5 L332.6 518M339.4 494.5 L335.7 518M341.3 494.5 L338.7 518M343.3 494.5 L341.8 518M345.2 494.5 L344.8 518M347.1 494.5 L347.8 518M349.1 494.5 L350.9 518M351.0 494.5 L353.9 518M352.9 494.5 L356.9 518M354.9 494.5 L360.0 518M356.8 494.5 L363.0 518M358.7 494.5 L366.1 518M360.6 494.5 L369.1 518M362.6 494.5 L372.1 518M364.5 494.5 L375.2 518M366.4 494.5 L378.2 518M368.4 494.5 L381.2 518M370.3 494.5 L384.3 518M372.2 494.5 L387.3 518M374.2 494.5 L390.4 518M376.1 494.5 L393.4 518M378.0 494.5 L396.4 518M380.0 494.5 L399.5 518M381.9 494.5 L402.5 518M383.8 494.5 L405.6 518M385.8 494.5 L408.6 518M387.7 494.5 L411.6 518M389.6 494.5 L414.7 518M391.6 494.5 L417.7 518M393.5 494.5 L420.7 518M395.4 494.5 L423.8 518M397.3 494.5 L426.8 518M399.3 494.5 L429.9 518M401.2 494.5 L432.9 518M403.1 494.5 L435.9 518M405.1 494.5 L439.0 518" stroke="#989808" stroke-width="0.85" opacity="0.5" fill="none"/><path d="M282.9 494.8 L407.5 494.8M281.8 495.5 L408.6 495.5M280.4 496.5 L410.0 496.5M278.6 497.7 L411.7 497.7M276.5 499.0 L413.7 499.0M274.2 500.6 L416.0 500.6M271.6 502.3 L418.5 502.3M268.8 504.1 L421.3 504.1M265.7 506.1 L424.3 506.1M262.5 508.2 L427.4 508.2M259.1 510.5 L430.8 510.5M255.4 512.9 L434.3 512.9M251.6 515.4 L438.1 515.4" stroke="#a8a800" stroke-width="0.5" opacity="0.3" fill="none"/><path d="M247.6 518 L442 518 L440.5 527 L249.1 527 Z" fill="#c8c840"/><path d="M248.1 519.4 L441.5 519.4" stroke="#e9e900" stroke-width="2.6" stroke-dasharray="0.1 3.1" stroke-linecap="round"/><path d="M249.1 522.3 L440.5 522.3" stroke="#a89c70" stroke-width="2.2" stroke-dasharray="0.1 3.1" stroke-linecap="round"/><path d="M249.6 525.2 L440 525.2" stroke="#e6e640" stroke-width="2.8" stroke-dasharray="0.1 3.1" stroke-linecap="round"/><ellipse cx="683.05" cy="529.5" rx="96.44999999999999" ry="3" fill="#000" opacity="0.09" filter="url(#blur2d)"/><path d="M618.6 497 L741.6 497 L781.5 517.5 L584.6 517.5 Z" fill="url(#gSlab)" filter="url(#blur05d)"/><path d="M620.5 497 L587.7 517.5M622.4 497 L590.8 517.5M624.4 497 L593.8 517.5M626.3 497 L596.9 517.5M628.2 497 L600.0 517.5M630.1 497 L603.1 517.5M632.1 497 L606.1 517.5M634.0 497 L609.2 517.5M635.9 497 L612.3 517.5M637.8 497 L615.4 517.5M639.7 497 L618.4 517.5M641.7 497 L621.5 517.5M643.6 497 L624.6 517.5M645.5 497 L627.7 517.5M647.4 497 L630.7 517.5M649.4 497 L633.8 517.5M651.3 497 L636.9 517.5M653.2 497 L640.0 517.5M655.1 497 L643.1 517.5M657.0 497 L646.1 517.5M659.0 497 L649.2 517.5M660.9 497 L652.3 517.5M662.8 497 L655.4 517.5M664.7 497 L658.4 517.5M666.6 497 L661.5 517.5M668.6 497 L664.6 517.5M670.5 497 L667.7 517.5M672.4 497 L670.7 517.5M674.3 497 L673.8 517.5M676.3 497 L676.9 517.5M678.2 497 L680.0 517.5M680.1 497 L683.0 517.5M682.0 497 L686.1 517.5M683.9 497 L689.2 517.5M685.9 497 L692.3 517.5M687.8 497 L695.4 517.5M689.7 497 L698.4 517.5M691.6 497 L701.5 517.5M693.6 497 L704.6 517.5M695.5 497 L707.7 517.5M697.4 497 L710.7 517.5M699.3 497 L713.8 517.5M701.2 497 L716.9 517.5M703.2 497 L720.0 517.5M705.1 497 L723.0 517.5M707.0 497 L726.1 517.5M708.9 497 L729.2 517.5M710.9 497 L732.3 517.5M712.8 497 L735.4 517.5M714.7 497 L738.4 517.5M716.6 497 L741.5 517.5M718.5 497 L744.6 517.5M720.5 497 L747.7 517.5M722.4 497 L750.7 517.5M724.3 497 L753.8 517.5M726.2 497 L756.9 517.5M728.1 497 L760.0 517.5M730.1 497 L763.0 517.5M732.0 497 L766.1 517.5M733.9 497 L769.2 517.5M735.8 497 L772.3 517.5M737.8 497 L775.3 517.5M739.7 497 L778.4 517.5" stroke="#989808" stroke-width="0.85" opacity="0.5" fill="none"/><path d="M618.1 497.3 L742.2 497.3M617.1 497.9 L743.4 497.9M615.7 498.7 L745.0 498.7M614.0 499.8 L747.0 499.8M612.1 500.9 L749.3 500.9M609.8 502.3 L751.9 502.3M607.4 503.8 L754.8 503.8M604.7 505.4 L757.9 505.4M601.8 507.1 L761.3 507.1M598.8 509.0 L764.9 509.0M595.5 510.9 L768.7 510.9M592.0 513.0 L772.8 513.0M588.4 515.2 L777.0 515.2" stroke="#a8a800" stroke-width="0.5" opacity="0.3" fill="none"/><path d="M584.6 517.5 L781.5 517.5 L780.0 527.0 L586.1 527.0 Z" fill="#c8c840"/><path d="M585.1 518.9 L781.0 518.9" stroke="#e9e900" stroke-width="2.6" stroke-dasharray="0.1 3.1" stroke-linecap="round"/><path d="M586.1 521.8 L780.0 521.8" stroke="#a89c70" stroke-width="2.2" stroke-dasharray="0.1 3.1" stroke-linecap="round"/><path d="M586.6 524.7 L779.5 524.7" stroke="#e6e640" stroke-width="2.8" stroke-dasharray="0.1 3.1" stroke-linecap="round"/><path d="M288.8 474 L313.6 486.4 L315.2 483 L322 489.6 L309 494.6 L311.4 490.4 L288.4 474.8 Z" fill="#c8a256" opacity="0.92"/><circle cx="277.5" cy="467" r="2.8" fill="url(#gSc)"/><circle cx="287.6" cy="468.4" r="2.8" fill="url(#gSc)"/><circle cx="293.6" cy="472.5" r="2.8" fill="url(#gSc)"/><circle cx="310.6" cy="483.1" r="2.8" fill="url(#gSc)"/><circle cx="292.4" cy="485.5" r="2.8" fill="url(#gSc)"/><circle cx="299.5" cy="490.7" r="2.8" fill="url(#gSc)"/><path d="M464.5 508 L546 508" stroke="#111" stroke-width="2.2"/><path d="M556 508 L544.5 503.6 L544.5 512.4 Z" fill="#111"/><rect x="239" y="543.4" width="173.60000000000002" height="92.80000000000007" fill="url(#honey)"/><rect x="427.6" y="543.4" width="172.79999999999995" height="92.80000000000007" fill="url(#honey)"/><rect x="615.8" y="543.4" width="171.80000000000007" height="92.80000000000007" fill="url(#honey)"/><clipPath id="cph1"><rect x="239" y="543.4" width="173.6" height="92.8"/></clipPath><clipPath id="cph2"><rect x="427.6" y="543.4" width="172.8" height="92.8"/></clipPath><g clip-path="url(#cph1)"><ellipse cx="263.6" cy="589" rx="26" ry="18" fill="url(#gLav)"/><path d="M248.1 589 L260.6 584 L261.6 589 L260.6 594 Z" fill="url(#gGold)" filter="url(#blur05d)"/><path d="M255.79999999999998 589 L260.0 589 M259.8 586.8 L259.8 591.2" stroke="#15150a" stroke-width="1.6" fill="none"/><ellipse cx="393.6" cy="589.4" rx="26" ry="18" fill="url(#gLav)"/><path d="M392.1 589.4 L404.6 584.4 L405.6 589.4 L404.6 594.4 Z" fill="url(#gGold)" filter="url(#blur05d)"/><path d="M399.8 589.4 L404.0 589.4 M403.8 587.1999999999999 L403.8 591.6" stroke="#15150a" stroke-width="1.6" fill="none"/></g><g clip-path="url(#cph2)"><ellipse cx="449.6" cy="590.8" rx="26" ry="18" fill="url(#gLav)"/><path d="M434.1 590.8 L446.6 585.8 L447.6 590.8 L446.6 595.8 Z" fill="url(#gGold)" filter="url(#blur05d)"/><path d="M441.8 590.8 L446.0 590.8 M445.8 588.5999999999999 L445.8 593.0" stroke="#15150a" stroke-width="1.6" fill="none"/></g><clipPath id="cpd1"><rect x="240" y="642" width="174" height="174"/></clipPath><g clip-path="url(#cpd1)"><rect x="240" y="642" width="174" height="174" fill="#050201"/><circle cx="326" cy="729.3" r="86" fill="url(#gHalo1)"/><circle cx="326" cy="731.0" r="52.5" fill="url(#gGlow1)"/><path d="M244.5 813.6h0M277.1 813.6h0M244.5 645.0h0M277.1 645.0h0M374.9 813.6h0M407.5 813.6h0M374.9 645.0h0M407.5 645.0h0" stroke="#a8241a" stroke-width="2.6" stroke-linecap="round" filter="url(#blur07d)" opacity="0.75"/><path d="M244.5 757.4h0M260.8 785.5h0M244.5 701.2h0M260.8 729.3h0M293.4 785.5h0M309.7 813.6h0M260.8 673.1h0M342.3 813.6h0M293.4 673.1h0M358.6 785.5h0M309.7 645.0h0M391.2 785.5h0M342.3 645.0h0M358.6 673.1h0M391.2 729.3h0M407.5 757.4h0M391.2 673.1h0M407.5 701.2h0" stroke="#e84a38" stroke-width="2.8" stroke-linecap="round" filter="url(#blur07d)" opacity="0.95"/><path d="M277.1 757.4h0M277.1 701.2h0M326.0 785.5h0M326.0 673.1h0M374.9 757.4h0M374.9 701.2h0" stroke="#ff8a6c" stroke-width="3.4" stroke-linecap="round" filter="url(#blur07d)" opacity="1"/><path d="M293.4 729.3h0M309.7 757.4h0M309.7 701.2h0M342.3 757.4h0M342.3 701.2h0M358.6 729.3h0" stroke="#ffa89c" stroke-width="2.6" stroke-linecap="round" filter="url(#blur07d)" opacity="0.9"/><path d="M332.9 721.2 L335.4 738.6 L262 754.2 L259 736 Z" fill="url(#gStop1)" filter="url(#blur05d)"/></g><clipPath id="cpd2"><rect x="427.5" y="642" width="173.5" height="174"/></clipPath><g clip-path="url(#cpd2)"><rect x="427.5" y="642" width="173.5" height="174" fill="#160c04"/><circle cx="515.4" cy="730.4" r="100" fill="url(#gHalo2)"/><circle cx="515.4" cy="730.4" r="46.5" fill="url(#gGlow2)"/><path d="M435.9 812.9h0M467.7 812.9h0M435.9 647.9h0M467.7 647.9h0M563.1 812.9h0M594.9 812.9h0M563.1 647.9h0M594.9 647.9h0" stroke="#c04a1c" stroke-width="2.5" stroke-linecap="round" filter="url(#blur07d)" opacity="0.75"/><path d="M435.9 757.9h0M451.8 785.4h0M435.9 702.9h0M451.8 730.4h0M483.6 785.4h0M499.5 812.9h0M451.8 675.4h0M531.3 812.9h0M483.6 675.4h0M547.2 785.4h0M499.5 647.9h0M579.0 785.4h0M531.3 647.9h0M547.2 675.4h0M579.0 730.4h0M594.9 757.9h0M579.0 675.4h0M594.9 702.9h0" stroke="#e87434" stroke-width="2.7" stroke-linecap="round" filter="url(#blur07d)" opacity="0.9"/><path d="M467.7 757.9h0M467.7 702.9h0M515.4 785.4h0M515.4 675.4h0M563.1 757.9h0M563.1 702.9h0" stroke="#ffb878" stroke-width="3.5" stroke-linecap="round" filter="url(#blur07d)" opacity="1"/><path d="M483.6 730.4h0M499.5 757.9h0M499.5 702.9h0M531.3 757.9h0M531.3 702.9h0M547.2 730.4h0" stroke="#ffd8a0" stroke-width="2.8" stroke-linecap="round" filter="url(#blur07d)" opacity="0.9"/><path d="M518.8 720.4 L528 734.5 L418.1 794.1 L408.9 780 Z" fill="#060301" filter="url(#blur05d)"/></g><clipPath id="cpd3"><rect x="615" y="642" width="174.5" height="174.5"/></clipPath><g clip-path="url(#cpd3)"><rect x="615" y="642" width="174.5" height="174.5" fill="#040302"/><circle cx="702" cy="732" r="8.8" fill="url(#gGlow3)"/><path d="M623.5 814.8h0M654.9 814.8h0M623.5 649.2h0M654.9 649.2h0M749.1 814.8h0M780.5 814.8h0M749.1 649.2h0M780.5 649.2h0" stroke="#601409" stroke-width="2.2" stroke-linecap="round" filter="url(#blur07d)" opacity="0.4"/><path d="M623.5 759.6h0M639.2 787.2h0M623.5 704.4h0M639.2 732.0h0M670.6 787.2h0M686.3 814.8h0M639.2 676.8h0M670.6 732.0h0M686.3 759.6h0M717.7 814.8h0M670.6 676.8h0M686.3 704.4h0M717.7 759.6h0M733.4 787.2h0M686.3 649.2h0M717.7 704.4h0M733.4 732.0h0M764.8 787.2h0M717.7 649.2h0M733.4 676.8h0M764.8 732.0h0M780.5 759.6h0M764.8 676.8h0M780.5 704.4h0" stroke="#a02c1e" stroke-width="2.4" stroke-linecap="round" filter="url(#blur07d)" opacity="0.6"/><path d="M654.9 759.6h0M654.9 704.4h0M702.0 787.2h0M702.0 676.8h0M749.1 759.6h0M749.1 704.4h0" stroke="#e0583c" stroke-width="2.6" stroke-linecap="round" filter="url(#blur07d)" opacity="0.9"/></g><rect x="273.2" y="643.5" width="9.6" height="8.4" fill="none" stroke="#e8e8e8" stroke-width="1.1"/><rect x="463.3" y="643.6" width="9.8" height="8.8" fill="none" stroke="#e8e8e8" stroke-width="1.1"/><rect x="651.5" y="644" width="9.5" height="9" fill="none" stroke="#e8e8e8" stroke-width="1.1"/><rect x="367.6" y="644.2" width="44.799999999999955" height="44.19999999999993" fill="#050302" stroke="#e4e4e0" stroke-width="1.2"/><ellipse cx="390" cy="667.6" rx="16" ry="6" fill="url(#gBlobR)" transform="rotate(-24 390 667.6)"/><ellipse cx="390" cy="667.6" rx="6.5" ry="3.6" fill="url(#gBlobY)" transform="rotate(-24 390 667.6)"/><path d="M371.7 675.7 L373.5 675.0" stroke="#fff" stroke-width="1.5"/><path d="M377.7 673.1 L374.6 677.6 L372.3 672.3 Z" fill="#fff"/><path d="M408.3 659.5 L406.5 660.2" stroke="#fff" stroke-width="1.5"/><path d="M402.3 662.1 L407.7 662.9 L405.4 657.6 Z" fill="#fff"/><text x="376" y="655.2" font-family="Liberation Sans, sans-serif" font-size="10.6" fill="#eee" textLength="28" lengthAdjust="spacingAndGlyphs">±1.11°</text><rect x="553.2" y="644.4" width="46.0" height="44.5" fill="#050302" stroke="#e4e4e0" stroke-width="1.2"/><ellipse cx="575.6" cy="668.7" rx="9.5" ry="6.5" fill="url(#gBlobR)" transform="rotate(-15 575.6 668.7)"/><ellipse cx="576.1" cy="668.2" rx="5.5" ry="4" fill="url(#gBlobY)"/><path d="M560.6 676.7 L564.0 674.9" stroke="#fff" stroke-width="1.5"/><path d="M568.1 672.7 L565.4 677.4 L562.7 672.3 Z" fill="#fff"/><path d="M590.6 660.7 L587.2 662.5" stroke="#fff" stroke-width="1.5"/><path d="M583.1 664.7 L588.5 665.1 L585.8 660.0 Z" fill="#fff"/><text x="558.8" y="655.4" font-family="Liberation Sans, sans-serif" font-size="10.6" fill="#eee" textLength="35" lengthAdjust="spacingAndGlyphs">±0.73°</text><rect x="742" y="644.4" width="45.39999999999998" height="44.5" fill="#0a0a04" stroke="#e4e4e0" stroke-width="1.2"/><circle cx="763.8" cy="665.3" r="7" fill="url(#gBlobR)"/><circle cx="763.8" cy="665.3" r="3.2" fill="url(#gBlobO)"/><path d="M750.6 672.3 L754.0 670.5" stroke="#fff" stroke-width="1.5"/><path d="M758.1 668.4 L755.4 673.1 L752.6 668.0 Z" fill="#fff"/><path d="M777.0 658.3 L773.6 660.1" stroke="#fff" stroke-width="1.5"/><path d="M769.5 662.2 L775.0 662.6 L772.2 657.5 Z" fill="#fff"/><text x="747.4" y="655.4" font-family="Liberation Sans, sans-serif" font-size="10.6" fill="#eee" textLength="34.4" lengthAdjust="spacingAndGlyphs">±0.41°</text><text x="240.6" y="813.2" font-family="Liberation Sans, sans-serif" font-size="17.2" fill="#f2f2f2" textLength="54" lengthAdjust="spacingAndGlyphs">810 °C</text><text x="428.2" y="813.8" font-family="Liberation Sans, sans-serif" font-size="17.2" fill="#f2f2f2" textLength="54" lengthAdjust="spacingAndGlyphs">830 °C</text><text x="615.4" y="814.5" font-family="Liberation Sans, sans-serif" font-size="17.2" fill="#f2f2f2" textLength="54" lengthAdjust="spacingAndGlyphs">850 °C</text><rect x="392.2" y="807.2" width="17.6" height="5" fill="#fff"/><rect x="579.8" y="808.8" width="17.6" height="5" fill="#fff"/><rect x="767.5" y="810.0" width="17.6" height="5" fill="#fff"/><text x="740.6" y="834" font-family="Liberation Sans, sans-serif" font-size="16" fill="#222">2 nm<tspan font-size="9.5" dy="-8">−1</tspan></text></g>
<g id="pe"><text x="806.5" y="466.5" font-family="Liberation Sans, sans-serif" font-size="23" font-weight="bold" fill="#000" stroke="#000" stroke-width="1.05">e</text><path d="M866.2 579.7 L993.6 579.7" stroke="#e8d830" stroke-width="4.2" stroke-dasharray="2.6 2.15" fill="none"/><rect x="864.2" y="498.3" width="130.39999999999998" height="162.99999999999994" fill="none" stroke="#4a4a4a" stroke-width="1.1"/><text x="855.3" y="503.0" font-family="Liberation Sans, sans-serif" font-size="13.4" fill="#333" text-anchor="end">1.5</text><text x="855.3" y="530.2" font-family="Liberation Sans, sans-serif" font-size="13.4" fill="#333" text-anchor="end">1.0</text><text x="855.3" y="557.3" font-family="Liberation Sans, sans-serif" font-size="13.4" fill="#333" text-anchor="end">0.5</text><text x="855.3" y="584.5" font-family="Liberation Sans, sans-serif" font-size="13.4" fill="#333" text-anchor="end">0</text><text x="855.3" y="611.7" font-family="Liberation Sans, sans-serif" font-size="13.4" fill="#333" text-anchor="end">−0.5</text><text x="855.3" y="638.8" font-family="Liberation Sans, sans-serif" font-size="13.4" fill="#333" text-anchor="end">−1.0</text><text x="855.3" y="666.0" font-family="Liberation Sans, sans-serif" font-size="13.4" fill="#333" text-anchor="end">−1.5</text><text x="885.7" y="682.8" font-family="Liberation Sans, sans-serif" font-size="13.4" fill="#333" text-anchor="middle">810</text><text x="929.5" y="682.8" font-family="Liberation Sans, sans-serif" font-size="13.4" fill="#333" text-anchor="middle">830</text><text x="972.5" y="682.8" font-family="Liberation Sans, sans-serif" font-size="13.4" fill="#333" text-anchor="middle">850</text><path d="M858.8000000000001 498.3 L864.2 498.3 M858.8000000000001 525.5 L864.2 525.5 M858.8000000000001 552.6 L864.2 552.6 M858.8000000000001 579.8 L864.2 579.8 M858.8000000000001 607.0 L864.2 607.0 M858.8000000000001 634.1 L864.2 634.1 M858.8000000000001 661.3 L864.2 661.3 M885.7 661.3 L885.7 666.6999999999999 M929.5 661.3 L929.5 666.6999999999999 M972.5 661.3 L972.5 666.6999999999999 " stroke="#4a4a4a" stroke-width="1.1" fill="none"/><g fill="#d9161a"><circle cx="885.7" cy="529" r="3.2"/><circle cx="885.7" cy="549.8" r="3.2"/><circle cx="885.7" cy="554.1" r="3.2"/><circle cx="885.7" cy="559.5" r="3.2"/><circle cx="885.7" cy="563.8" r="3.2"/><circle cx="885.7" cy="569.2" r="3.2"/><circle cx="885.7" cy="573.4" r="3.2"/><circle cx="885.7" cy="577.7" r="3.2"/><circle cx="885.7" cy="597.5" r="3.2"/><circle cx="885.7" cy="601.1" r="3.2"/><circle cx="885.7" cy="604.8" r="3.2"/><circle cx="885.7" cy="608.7" r="3.2"/><circle cx="885.7" cy="649.9" r="3.2"/><circle cx="929.5" cy="535.4" r="3.2"/><circle cx="929.5" cy="559" r="3.2"/><circle cx="929.5" cy="563.8" r="3.2"/><circle cx="929.5" cy="568.1" r="3.2"/><circle cx="929.5" cy="577.7" r="3.2"/><circle cx="929.5" cy="581" r="3.2"/><circle cx="929.5" cy="585.3" r="3.2"/><circle cx="929.5" cy="589.3" r="3.2"/><circle cx="929.5" cy="614.5" r="3.2"/><circle cx="929.5" cy="623.7" r="3.2"/><circle cx="972.5" cy="557.8" r="3.2"/><circle cx="972.5" cy="562.7" r="3.2"/><circle cx="972.5" cy="567.6" r="3.2"/><circle cx="972.5" cy="574.5" r="3.2"/><circle cx="972.5" cy="578.8" r="3.2"/><circle cx="972.5" cy="583.5" r="3.2"/><circle cx="972.5" cy="588.9" r="3.2"/><circle cx="972.5" cy="596.9" r="3.2"/><circle cx="972.5" cy="601.8" r="3.2"/></g><text x="866.9" y="518.2" font-family="Liberation Sans, sans-serif" font-size="11.3" fill="#444" textLength="51" lengthAdjust="spacingAndGlyphs"><tspan font-style="italic">σ</tspan>= 0.525°</text><text x="902.4" y="529.8" font-family="Liberation Sans, sans-serif" font-size="11.3" fill="#444" textLength="53" lengthAdjust="spacingAndGlyphs"><tspan font-style="italic">σ</tspan>= 0.385°</text><text x="937.6" y="547" font-family="Liberation Sans, sans-serif" font-size="11.3" fill="#444" textLength="51" lengthAdjust="spacingAndGlyphs"><tspan font-style="italic">σ</tspan>= 0.261°</text><text x="830.2" y="704.3" font-family="Liberation Sans, sans-serif" font-size="15.3" fill="#333" textLength="192.5" lengthAdjust="spacingAndGlyphs">Growth temperature (°C)</text><text transform="translate(819.8 636) rotate(-90)" font-family="Liberation Sans, sans-serif" font-size="15.3" fill="#333" textLength="110.5" lengthAdjust="spacingAndGlyphs">Deviation, <tspan font-style="italic">Δ</tspan> (°)</text></g>
</svg>
</body></html>
